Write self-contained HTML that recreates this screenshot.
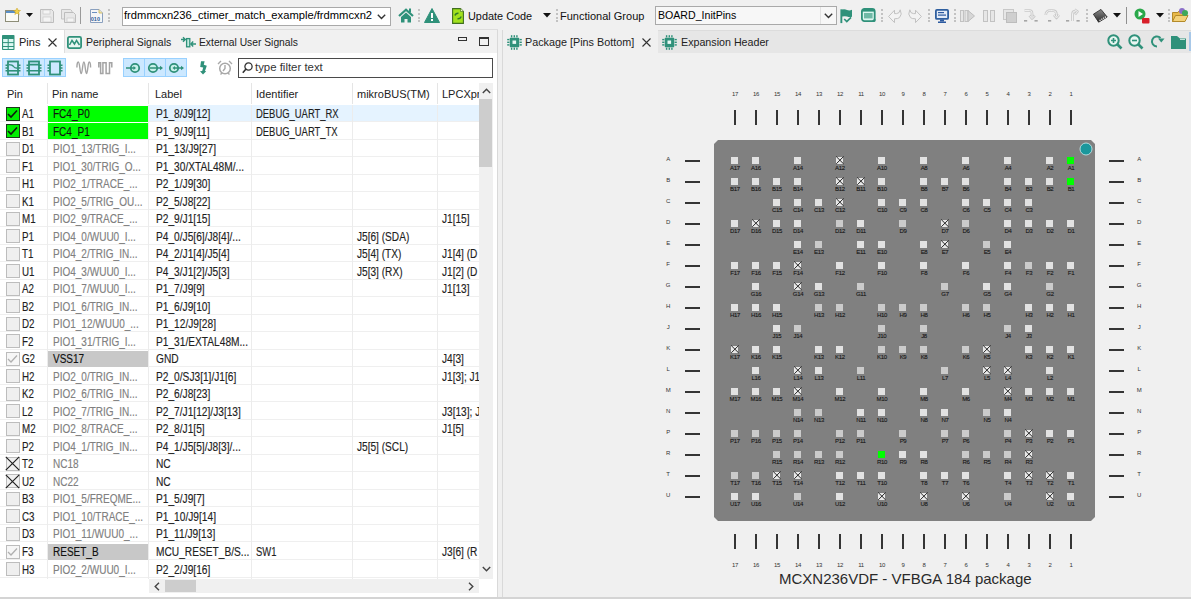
<!DOCTYPE html><html><head><meta charset="utf-8"><style>

*{box-sizing:border-box;margin:0;padding:0}
html,body{width:1191px;height:599px;overflow:hidden;background:#f0f0f0;font-family:"Liberation Sans",sans-serif;color:#1e1e1e}
.a{position:absolute}
.t{position:absolute;white-space:nowrap;font-size:11px;line-height:13px}
svg{position:absolute;overflow:visible}
.sepd{position:absolute;width:2px;height:14px;top:9px;background:repeating-linear-gradient(#c2c2c2 0 2px,transparent 2px 3.8px)}
.row{position:absolute;left:0;width:479px;height:17.5px;border-bottom:1px solid #ededed}
.c{position:absolute;top:1.5px;-webkit-text-stroke:0.15px currentColor;height:17px;white-space:nowrap;font-size:12px;line-height:17px;transform:scaleX(0.815);transform-origin:0 0}
.nm{}
.vl{position:absolute;width:1px;background:#ececec}
.pin{position:absolute;width:7.2px;height:7.2px}
.pl{position:absolute;font-size:6px;line-height:6px;color:#151515;-webkit-text-stroke:0.1px #151515;text-align:center;width:20px;letter-spacing:-0.3px}
.num{position:absolute;font-size:6px;line-height:6px;color:#333;text-align:center;width:20px;letter-spacing:-0.3px}

</style></head><body>
<div class="a" style="left:0;top:0;width:1191px;height:30px;background:#f0f0f0"></div>
<svg style="left:5px;top:8px" width="16" height="15" viewBox="0 0 16 15"><rect x="0.5" y="2.5" width="13" height="11" fill="#fbfbf5" stroke="#8d8d78"/><rect x="1" y="3" width="12" height="2" fill="#5a8fc8"/><path d="M12 0 L13 2.2 L15.5 2.5 L13.6 4 L14.2 6.5 L12 5.2 L9.8 6.5 L10.4 4 L8.5 2.5 L11 2.2Z" fill="#f3d24a" stroke="#c9a21e" stroke-width="0.5"/></svg>
<svg style="left:26px;top:13px" width="7" height="5"><path d="M0 0 H7 L3.5 4Z" fill="#111"/></svg>
<svg style="left:40px;top:9px" width="14" height="14" viewBox="0 0 14 14"><path d="M0.5 0.5H11.5L13.5 2.5V13.5H0.5Z" fill="#e8e8e8" stroke="#bdbdbd"/><rect x="3" y="1" width="7" height="4" fill="#f4f4f4" stroke="#c4c4c4" stroke-width="0.6"/><rect x="3" y="8" width="8" height="5" fill="#f4f4f4" stroke="#c4c4c4" stroke-width="0.6"/></svg>
<svg style="left:61px;top:9px" width="15" height="14" viewBox="0 0 15 14"><path d="M0.5 0.5H9.5L11 2V10H0.5Z" fill="#e8e8e8" stroke="#c4c4c4"/><path d="M3.5 3.5H12.5L14.5 5.5V13.5H3.5Z" fill="#e8e8e8" stroke="#bdbdbd"/><rect x="6" y="9" width="7" height="4" fill="#f4f4f4" stroke="#c4c4c4" stroke-width="0.6"/></svg>
<div class="a" style="left:80px;top:7px;width:1px;height:17px;background:#9a9a9a"></div>
<svg style="left:90px;top:9px" width="13" height="14" viewBox="0 0 13 14"><path d="M0.5 0.5H9L12.5 4V13.5H0.5Z" fill="#f6f6f6" stroke="#8aa0bf"/><path d="M9 0.5V4H12.5" fill="#f0e6b0" stroke="#c7b15a" stroke-width="0.8"/><rect x="2" y="3" width="5" height="1" fill="#6c8fc0"/><text x="0.8" y="12" font-size="5.5" font-family="Liberation Sans" font-weight="bold" fill="#2d5a9a">010</text></svg>
<div class="sepd" style="left:108px"></div>
<div class="a" style="left:122px;top:7px;width:269px;height:19px;background:#fff;border:1px solid #a9a9a9"></div>
<div class="t" style="left:124px;top:9px;font-size:11.2px;color:#000">frdmmcxn236_ctimer_match_example/frdmmcxn2</div>
<div class="a" style="left:373px;top:8px;width:17px;height:17px;background:#fff"></div>
<svg style="left:377px;top:14px" width="9" height="6"><path d="M0.8 0.8 L4.5 4.5 L8.2 0.8" fill="none" stroke="#333" stroke-width="1.4"/></svg>
<svg style="left:398px;top:8px" width="16" height="15" viewBox="0 0 16 15"><path d="M1 8 L8 1.8 L15 8" fill="none" stroke="#2f917a" stroke-width="2.2" stroke-linejoin="miter"/><rect x="11" y="0.5" width="2" height="4" fill="#2f917a"/><path d="M3 9 L8 4.6 L13 9 V14.5 H9.5 V11 H6.5 V14.5 H3Z" fill="#2f917a"/></svg>
<div class="sepd" style="left:418px"></div>
<svg style="left:424px;top:8px" width="16" height="15" viewBox="0 0 16 15"><path d="M8 0.5 L15.5 14.5 H0.5Z" fill="#2f917a" stroke="#2f917a" stroke-linejoin="round"/><rect x="7" y="5" width="2" height="5" fill="#fff"/><rect x="7" y="11" width="2" height="2" fill="#fff"/></svg>
<svg style="left:452px;top:8px" width="12" height="16" viewBox="0 0 12 16"><path d="M0.6 0.6H8.5L11.4 3.5V15.4H0.6Z" fill="#a2e21e" stroke="#3f6f1f" stroke-width="1.1"/><path d="M8.5 0.6V3.5H11.4" fill="#e8f8c0" stroke="#3f6f1f" stroke-width="0.6"/><path d="M3 7.5 Q3.5 5 6.5 5.2 M9 8.5 Q8.6 11 5.5 10.8" fill="none" stroke="#2f7a2a" stroke-width="1.5"/></svg>
<div class="t" style="left:468px;top:10px;font-size:10.9px;color:#111">Update Code</div>
<svg style="left:543px;top:13px" width="8" height="5"><path d="M0 0 H8 L4 4.5Z" fill="#111"/></svg>
<div class="sepd" style="left:556px"></div>
<div class="t" style="left:560px;top:10px;font-size:11px;color:#111">Functional Group</div>
<div class="a" style="left:655px;top:6px;width:182px;height:19px;background:#f7f7f7;border:1px solid #a9a9a9"></div>
<div class="a" style="left:820px;top:7px;width:1px;height:17px;background:#e2e2e2"></div>
<div class="t" style="left:658px;top:9px;font-size:10.6px;color:#000">BOARD_InitPins</div>
<svg style="left:824px;top:13px" width="9" height="6"><path d="M0.8 0.8 L4.5 4.5 L8.2 0.8" fill="none" stroke="#333" stroke-width="1.4"/></svg>
<svg style="left:840px;top:9px" width="13" height="15" viewBox="0 0 13 15"><rect x="0.4" y="0.3" width="1.9" height="13.8" fill="#2f917a"/><path d="M2 0.5 Q5 -0.3 7 1 Q9.5 2 12 0.8 V7.8 Q9.5 8.5 7 7.5 Q5 6.8 2 7.6Z" fill="#2f917a"/><path d="M4.2 10 L6.8 12.6 L11 8.4" fill="none" stroke="#2f917a" stroke-width="1.7"/></svg>
<svg style="left:861px;top:8px" width="15" height="15" viewBox="0 0 15 15"><rect x="0.9" y="0.9" width="12.8" height="12.2" rx="2.5" fill="#dcf6f0" stroke="#2f917a" stroke-width="1.8"/><rect x="1" y="1" width="12.6" height="2.6" fill="#2f917a"/><rect x="3" y="5" width="8.6" height="5.4" fill="#6fb9a6"/><path d="M10.5 14 L14.6 10.8 V12.5 Q14.6 14 13 14Z" fill="#2f917a"/></svg>
<div class="sepd" style="left:881px"></div>
<svg style="left:888px;top:9px" width="15" height="14" viewBox="0 0 15 14"><path d="M0.6 7.5 L6.5 1.2 V4.6 H8.6 Q11.6 4.6 12.2 0.8 Q14.6 5.5 11.5 8.6 Q10.2 9.8 6.5 9.8 V13.6Z" fill="#f3f3f3" stroke="#c2c2c2" stroke-width="1" stroke-linejoin="round"/></svg>
<svg style="left:907px;top:9px" width="15" height="14" viewBox="0 0 15 14"><path d="M14.4 7.5 L8.5 1.2 V4.6 H6.4 Q3.4 4.6 2.8 0.8 Q0.4 5.5 3.5 8.6 Q4.8 9.8 8.5 9.8 V13.6Z" fill="#f3f3f3" stroke="#c2c2c2" stroke-width="1" stroke-linejoin="round"/></svg>
<div class="sepd" style="left:928px"></div>
<svg style="left:935px;top:9px" width="14" height="14" viewBox="0 0 14 14"><rect x="0.9" y="0.9" width="12.2" height="9" rx="1" fill="#e4ecf7" stroke="#2f5f9f" stroke-width="1.8"/><rect x="3" y="3" width="6" height="1.2" fill="#2c5aa0"/><rect x="3" y="5.5" width="8" height="1.2" fill="#2c5aa0"/><rect x="5" y="10.5" width="4" height="2" fill="#2c5aa0"/><rect x="3" y="12.5" width="8" height="1.5" fill="#2c5aa0"/></svg>
<div class="sepd" style="left:954px"></div>
<svg style="left:960px;top:9px" width="15" height="14" viewBox="0 0 15 14"><rect x="0.5" y="1.5" width="3" height="11" fill="#e6e6e6" stroke="#c2c2c2"/><rect x="5" y="1.5" width="3" height="11" fill="#e6e6e6" stroke="#c2c2c2"/><path d="M8 1.5 L14.5 7 L8 12.5Z" fill="#d6d6d6" stroke="#bdbdbd"/></svg>
<svg style="left:982px;top:9px" width="14" height="14" viewBox="0 0 14 14"><rect x="1.5" y="1.5" width="4" height="11" fill="#e6e6e6" stroke="#c2c2c2"/><rect x="8.5" y="1.5" width="4" height="11" fill="#e6e6e6" stroke="#c2c2c2"/></svg>
<svg style="left:1003px;top:9px" width="14" height="14" viewBox="0 0 14 14"><rect x="0.5" y="0.5" width="10" height="10" fill="#e6e6e6" stroke="#c8c8c8"/><rect x="3.5" y="3.5" width="10" height="10" fill="#cfcfcf" stroke="#bdbdbd"/></svg>
<svg style="left:1023px;top:9px" width="16" height="13" viewBox="0 0 16 13"><path d="M1.5 1.5 H6.5 Q9 1.5 9 4 V8 M6.5 6.5 L9 9.5 L11.8 6.5" fill="none" stroke="#c9c9c9" stroke-width="2.6" stroke-linejoin="round"/><path d="M1.5 1.5 H6.5 Q9 1.5 9 4 V8 M6.5 6.5 L9 9.5 L11.8 6.5" fill="none" stroke="#f4f4f4" stroke-width="0.9" stroke-linejoin="round"/><rect x="1" y="11" width="3.2" height="1.6" fill="#a6a6a6"/><rect x="11.5" y="11" width="3.2" height="1.6" fill="#a6a6a6"/></svg>
<svg style="left:1044px;top:9px" width="16" height="13" viewBox="0 0 16 13"><path d="M1.8 6 Q1.8 1.5 6.5 1.5 H8.5 Q12.5 1.5 12.5 5.5 V7.5 M10 6 L12.5 9 L15 6" fill="none" stroke="#c9c9c9" stroke-width="2.6" stroke-linejoin="round"/><path d="M1.8 6 Q1.8 1.5 6.5 1.5 H8.5 Q12.5 1.5 12.5 5.5 V7.5 M10 6 L12.5 9 L15 6" fill="none" stroke="#f4f4f4" stroke-width="0.9" stroke-linejoin="round"/><rect x="4" y="11" width="3.2" height="1.6" fill="#a6a6a6"/></svg>
<svg style="left:1065px;top:9px" width="16" height="13" viewBox="0 0 16 13"><path d="M7.5 12 V5 Q7.5 2 10.5 2 H11 M9.5 0.5 L12.5 2.5 L10 5.5" fill="none" stroke="#c9c9c9" stroke-width="2.6" stroke-linejoin="round"/><path d="M7.5 12 V5 Q7.5 2 10.5 2 H11 M9.5 0.5 L12.5 2.5 L10 5.5" fill="none" stroke="#f4f4f4" stroke-width="0.9" stroke-linejoin="round"/><rect x="1" y="11" width="3.2" height="1.6" fill="#a6a6a6"/><rect x="11.5" y="11" width="3.2" height="1.6" fill="#a6a6a6"/></svg>
<div class="sepd" style="left:1086px"></div>
<svg style="left:1093px;top:9px" width="15" height="14" viewBox="0 0 15 14"><defs><linearGradient id="cg" x1="0" y1="0" x2="0" y2="1"><stop offset="0" stop-color="#8a8a8a"/><stop offset="1" stop-color="#2a2a2a"/></linearGradient></defs><path d="M0.4 5.2 L8 0.4 L14.2 8 L5.6 13.2Z" fill="url(#cg)" stroke="#222" stroke-width="0.8"/><path d="M6.5 11.6 L13 7.8" stroke="#f4f4f4" stroke-width="1.3" stroke-dasharray="1.2 0.9"/></svg>
<svg style="left:1113px;top:13px" width="8" height="5"><path d="M0 0 H8 L4 4.5Z" fill="#111"/></svg>
<div class="a" style="left:1126px;top:7px;width:1px;height:17px;background:#8f8f8f"></div>
<svg style="left:1134px;top:8px" width="16" height="16" viewBox="0 0 16 16"><circle cx="6" cy="6" r="5.5" fill="#2aa84a"/><path d="M4.5 3 L9 6 L4.5 9Z" fill="#fff"/><rect x="8" y="10" width="7.5" height="5.5" rx="1" fill="#d8202a"/></svg>
<svg style="left:1156px;top:13px" width="8" height="5"><path d="M0 0 H8 L4 4.5Z" fill="#111"/></svg>
<div class="sepd" style="left:1168px"></div>
<svg style="left:1172px;top:7px" width="17" height="16" viewBox="0 0 17 16"><path d="M0.5 5.5 H6 L7 4 H11 V14.5 H0.5Z" fill="#e9b94a" stroke="#b38a2a"/><path d="M0.5 14.5 L3.5 8.5 H16 L13 14.5Z" fill="#f4d27a" stroke="#b38a2a"/><circle cx="10" cy="4" r="3" fill="#8b6fc9"/><circle cx="13" cy="6" r="3" fill="#3ea85a"/></svg>
<div class="a" style="left:0;top:29px;width:498px;height:24px;background:#f1f1f1;border-top:1px solid #dddddd"></div>
<div class="a" style="left:0;top:30px;width:64px;height:23px;background:#fff"></div>
<div class="a" style="left:64px;top:30px;width:1px;height:23px;background:#dedede"></div>
<svg style="left:2px;top:35px" width="13" height="15" viewBox="0 0 13 15"><rect x="0" y="0" width="12.5" height="15" rx="0.8" fill="#2f917a"/><g fill="#dcf8f2"><rect x="1.1" y="4" width="4.6" height="3.1"/><rect x="6.7" y="4" width="4.7" height="3.1"/><rect x="1.1" y="8.1" width="4.6" height="2.9"/><rect x="6.7" y="8.1" width="4.7" height="2.9"/><rect x="1.1" y="12" width="4.6" height="2"/><rect x="6.7" y="12" width="4.7" height="2"/></g></svg>
<div class="t" style="left:19px;top:36px;font-size:11px;color:#222">Pins</div>
<svg style="left:48px;top:38px" width="9" height="9"><path d="M0.5 0.5 L8.5 8.5 M8.5 0.5 L0.5 8.5" stroke="#333" stroke-width="1.1"/></svg>
<svg style="left:67px;top:36px" width="15" height="13" viewBox="0 0 15 13"><rect x="0.9" y="0.9" width="13.2" height="11.2" rx="1.5" fill="#e9f6f2" stroke="#2f917a" stroke-width="1.8"/><path d="M2.5 9 L5 4.5 L7.5 8 L9.5 4.5 L12.5 9" fill="none" stroke="#2f917a" stroke-width="1.5"/></svg>
<div class="t" style="left:86px;top:36px;font-size:10.5px;color:#222">Peripheral Signals</div>
<svg style="left:180px;top:36px" width="17" height="13" viewBox="0 0 17 13"><path d="M1 3.5 H5.2 M3 1.2 L5.3 3.5 L3 5.8" fill="none" stroke="#2f917a" stroke-width="1.4"/><rect x="6.6" y="2.6" width="3.2" height="8.2" fill="#c4ece2" stroke="#2f917a" stroke-width="1.3"/><path d="M16 8 H11 M13.2 5.6 L10.9 8 L13.2 10.4" fill="none" stroke="#2f917a" stroke-width="1.4"/></svg>
<div class="t" style="left:199px;top:36px;font-size:10.3px;color:#222">External User Signals</div>
<div class="a" style="left:458px;top:37px;width:9px;height:4px;border:1px solid #333"></div>
<div class="a" style="left:479px;top:37px;width:10px;height:9px;border:1px solid #333;border-top:2px solid #333"></div>
<div class="a" style="left:0;top:53px;width:498px;height:545px;background:#fff"></div>
<div class="a" style="left:497px;top:30px;width:1px;height:568px;background:#d9d9d9"></div>
<div class="a" style="left:502px;top:30px;width:1px;height:568px;background:#d9d9d9"></div>
<div class="a" style="left:0;top:597px;width:1191px;height:2px;background:#d4d4d4"></div>
<div class="a" style="left:2px;top:58px;width:64px;height:19px;background:#cce8ff;border:1px solid #99d1ff"></div>
<div class="a" style="left:23px;top:58px;width:1px;height:19px;background:#99d1ff"></div>
<div class="a" style="left:44px;top:58px;width:1px;height:19px;background:#99d1ff"></div>
<div class="a" style="left:123px;top:58px;width:64px;height:19px;background:#cce8ff;border:1px solid #99d1ff"></div>
<div class="a" style="left:144px;top:58px;width:1px;height:19px;background:#99d1ff"></div>
<div class="a" style="left:165px;top:58px;width:1px;height:19px;background:#99d1ff"></div>
<svg style="left:5px;top:60px" width="16" height="16" viewBox="0 0 16 16"><rect x="3" y="1.5" width="10" height="13" fill="none" stroke="#2f917a" stroke-width="1.8"/><path d="M0.5 5.2 H3 M13 5.2 H15.5" stroke="#2f917a" stroke-width="1.4"/><path d="M0.5 8 H3 M13 8 H15.5" stroke="#2f917a" stroke-width="1.4"/><path d="M0.5 10.8 H3 M13 10.8 H15.5" stroke="#2f917a" stroke-width="1.4"/><path d="M3 10.8 H13" stroke="#2f917a" stroke-width="1.6"/><path d="M3.8 4.6 Q7.5 4.6 8.5 6.5 Q9.5 8.2 12.5 8.2" fill="none" stroke="#2f917a" stroke-width="1.4"/></svg>
<svg style="left:26px;top:60px" width="16" height="16" viewBox="0 0 16 16"><rect x="3" y="1.5" width="10" height="13" fill="none" stroke="#2f917a" stroke-width="1.8"/><path d="M0.5 5.2 H3 M13 5.2 H15.5" stroke="#2f917a" stroke-width="1.4"/><path d="M0.5 8 H3 M13 8 H15.5" stroke="#2f917a" stroke-width="1.4"/><path d="M0.5 10.8 H3 M13 10.8 H15.5" stroke="#2f917a" stroke-width="1.4"/><path d="M3 4.6 H13 M3 10.8 H13" stroke="#2f917a" stroke-width="1.6"/></svg>
<svg style="left:47px;top:60px" width="16" height="16" viewBox="0 0 16 16"><rect x="3" y="1.5" width="10" height="13" fill="none" stroke="#2f917a" stroke-width="1.8"/><path d="M0.5 5.2 H3 M13 5.2 H15.5" stroke="#2f917a" stroke-width="1.4"/><path d="M0.5 8 H3 M13 8 H15.5" stroke="#2f917a" stroke-width="1.4"/><path d="M0.5 10.8 H3 M13 10.8 H15.5" stroke="#2f917a" stroke-width="1.4"/></svg>
<svg style="left:76px;top:61px" width="16" height="14" viewBox="0 0 16 14"><path d="M0.9 6.6 C0.9 2.5 1.6 1 2.3 1 C3.8 1 4 12.6 5.1 12.6 C6.4 12.6 6.6 1 7.9 1 C9.2 1 9.3 12.6 10.5 12.6 C11.7 12.6 12 1 13.1 1 C14 1 14.6 3 14.6 6.6" fill="none" stroke="#a4a4a4" stroke-width="1.4"/></svg>
<svg style="left:98px;top:62px" width="15" height="13" viewBox="0 0 15 13"><path d="M0.8 5.6 V0.8 H2.6 V11.6 H4.9 V0.8 H8.1 V11.6 H11.5 V0.8 H13.8 V5.6" fill="none" stroke="#a4a4a4" stroke-width="1.5"/></svg>
<svg style="left:125px;top:61px" width="18" height="14" viewBox="0 0 18 14"><circle cx="10" cy="7" r="4.2" fill="#c9f1ea" stroke="#2f917a" stroke-width="1.8"/><path d="M1 7 H10" stroke="#2f917a" stroke-width="1.5"/><path d="M8.5 5 L11 7 L8.5 9Z" fill="#2f917a"/></svg>
<svg style="left:146px;top:61px" width="18" height="14" viewBox="0 0 18 14"><circle cx="7" cy="7" r="4.2" fill="#c9f1ea" stroke="#2f917a" stroke-width="1.8"/><path d="M4 7 H15" stroke="#2f917a" stroke-width="1.5"/><path d="M14 4.8 L17 7 L14 9.2Z" fill="#2f917a"/></svg>
<svg style="left:167px;top:61px" width="18" height="14" viewBox="0 0 18 14"><circle cx="7" cy="7" r="4.2" fill="#c9f1ea" stroke="#2f917a" stroke-width="1.8"/><path d="M7 7 H15" stroke="#2f917a" stroke-width="1.5"/><path d="M14 4.8 L17 7 L14 9.2Z" fill="#2f917a"/><path d="M8 5 L5.5 7 L8 9Z" fill="#2f917a"/></svg>
<svg style="left:199px;top:61px" width="9" height="14" viewBox="0 0 9 14"><path d="M2 0.2 H5.6 L4.8 3.7 L7.8 4.7 L6 10 L7.2 10.3 L4 13.4 L1 10.3 L3.2 10 L4.2 6.4 L1.2 6Z" fill="#2f917a"/></svg>
<svg style="left:217px;top:60px" width="16" height="16" viewBox="0 0 16 16"><circle cx="8" cy="8.5" r="5.3" fill="none" stroke="#a8a8a8" stroke-width="1.5"/><path d="M8 5 V8.5 L6 11 M1 4 L4 1 M12 1 L15 4 M3.5 14.5 L5 13 M12.5 14.5 L11 13" stroke="#a8a8a8" stroke-width="1.4" fill="none"/></svg>
<div class="a" style="left:238px;top:58px;width:255px;height:20px;background:#fff;border:1px solid #4a4a4a"></div>
<svg style="left:242px;top:62px" width="11" height="12" viewBox="0 0 11 12"><circle cx="6.5" cy="4.5" r="3.6" fill="none" stroke="#333" stroke-width="1.3"/><path d="M4 7 L0.8 10.8" stroke="#333" stroke-width="1.6"/></svg>
<div class="t" style="left:255px;top:61px;font-size:11.4px;color:#333">type filter text</div>
<div class="a" style="left:0;top:83px;width:479px;height:21px;background:#fff"></div>
<div class="vl" style="left:47px;top:83px;height:21px;background:#e5e5e5"></div>
<div class="vl" style="left:148px;top:83px;height:21px;background:#e5e5e5"></div>
<div class="vl" style="left:251px;top:83px;height:21px;background:#e5e5e5"></div>
<div class="vl" style="left:352px;top:83px;height:21px;background:#e5e5e5"></div>
<div class="vl" style="left:437px;top:83px;height:21px;background:#e5e5e5"></div>
<div class="t" style="left:7px;top:88px;font-size:11px;color:#222">Pin</div>
<div class="t" style="left:52px;top:88px;font-size:11px;color:#222">Pin name</div>
<div class="t" style="left:155px;top:88px;font-size:11px;color:#222">Label</div>
<div class="t" style="left:256px;top:88px;font-size:11px;color:#222">Identifier</div>
<div class="t" style="left:357px;top:88px;font-size:11px;color:#222">mikroBUS(TM)</div>
<div class="t" style="left:442px;top:88px;font-size:11px;color:#222">LPCXpr</div>
<div class="a" style="left:479px;top:83px;width:14px;height:496px;background:#f0f0f0"></div>
<div class="a" style="left:0;top:104.5px;width:479px;height:474px;overflow:hidden">
<div class="a" style="left:0;top:0.00px;width:479px;height:17.52px;border-bottom:1px solid #efefef">
<div class="a" style="left:148px;top:0;width:331px;height:100%;background:#e5f3ff"></div>
<div class="a" style="left:5.5px;top:2px;width:14px;height:14px;background:#00ee00;border:1px solid #1a3a1a"></div>
<svg style="left:7px;top:4px" width="11" height="10"><path d="M1 5 L4 8 L10 1.5" fill="none" stroke="#0d1a0d" stroke-width="1.6"/></svg>
<div class="c" style="left:22px;width:25px;color:#1e1e1e">A1</div>
<div class="a" style="left:48px;top:1px;width:100px;height:16px;background:#00ff00"></div>
<div class="c nm" style="left:53px;width:95px;color:#111;transform:scaleX(0.834)">FC4_P0</div>
<div class="c" style="left:156px;width:96px;color:#1e1e1e;transform:scaleX(0.848)">P1_8/J9[12]</div>
<div class="c" style="left:256px;width:96px;color:#1e1e1e;transform:scaleX(0.786)">DEBUG_UART_RX</div>
<div class="c" style="left:357px;width:80px;color:#1e1e1e;transform:scaleX(0.843)"></div>
<div class="c" style="left:442px;width:37px;color:#1e1e1e;transform:scaleX(0.843)"></div>
</div>
<div class="a" style="left:0;top:17.52px;width:479px;height:17.52px;border-bottom:1px solid #efefef">
<div class="a" style="left:5.5px;top:2px;width:14px;height:14px;background:#00ee00;border:1px solid #1a3a1a"></div>
<svg style="left:7px;top:4px" width="11" height="10"><path d="M1 5 L4 8 L10 1.5" fill="none" stroke="#0d1a0d" stroke-width="1.6"/></svg>
<div class="c" style="left:22px;width:25px;color:#1e1e1e">B1</div>
<div class="a" style="left:48px;top:1px;width:100px;height:16px;background:#00ff00"></div>
<div class="c nm" style="left:53px;width:95px;color:#111;transform:scaleX(0.834)">FC4_P1</div>
<div class="c" style="left:156px;width:96px;color:#1e1e1e;transform:scaleX(0.848)">P1_9/J9[11]</div>
<div class="c" style="left:256px;width:96px;color:#1e1e1e;transform:scaleX(0.786)">DEBUG_UART_TX</div>
<div class="c" style="left:357px;width:80px;color:#1e1e1e;transform:scaleX(0.843)"></div>
<div class="c" style="left:442px;width:37px;color:#1e1e1e;transform:scaleX(0.843)"></div>
</div>
<div class="a" style="left:0;top:35.04px;width:479px;height:17.52px;border-bottom:1px solid #efefef">
<div class="a" style="left:5.5px;top:2px;width:14px;height:14px;background:#efefef;border:1px solid #bdbdbd"></div>
<div class="c" style="left:22px;width:25px;color:#1e1e1e">D1</div>
<div class="c nm" style="left:53px;width:95px;color:#808080;transform:scaleX(0.834)">PIO1_13/TRIG_I...</div>
<div class="c" style="left:156px;width:96px;color:#1e1e1e;transform:scaleX(0.848)">P1_13/J9[27]</div>
<div class="c" style="left:256px;width:96px;color:#1e1e1e;transform:scaleX(0.786)"></div>
<div class="c" style="left:357px;width:80px;color:#1e1e1e;transform:scaleX(0.843)"></div>
<div class="c" style="left:442px;width:37px;color:#1e1e1e;transform:scaleX(0.843)"></div>
</div>
<div class="a" style="left:0;top:52.56px;width:479px;height:17.52px;border-bottom:1px solid #efefef">
<div class="a" style="left:5.5px;top:2px;width:14px;height:14px;background:#efefef;border:1px solid #bdbdbd"></div>
<div class="c" style="left:22px;width:25px;color:#1e1e1e">F1</div>
<div class="c nm" style="left:53px;width:95px;color:#808080;transform:scaleX(0.834)">PIO1_30/TRIG_O...</div>
<div class="c" style="left:156px;width:96px;color:#1e1e1e;transform:scaleX(0.848)">P1_30/XTAL48M/...</div>
<div class="c" style="left:256px;width:96px;color:#1e1e1e;transform:scaleX(0.786)"></div>
<div class="c" style="left:357px;width:80px;color:#1e1e1e;transform:scaleX(0.843)"></div>
<div class="c" style="left:442px;width:37px;color:#1e1e1e;transform:scaleX(0.843)"></div>
</div>
<div class="a" style="left:0;top:70.08px;width:479px;height:17.52px;border-bottom:1px solid #efefef">
<div class="a" style="left:5.5px;top:2px;width:14px;height:14px;background:#efefef;border:1px solid #bdbdbd"></div>
<div class="c" style="left:22px;width:25px;color:#1e1e1e">H1</div>
<div class="c nm" style="left:53px;width:95px;color:#808080;transform:scaleX(0.834)">PIO2_1/TRACE_...</div>
<div class="c" style="left:156px;width:96px;color:#1e1e1e;transform:scaleX(0.848)">P2_1/J9[30]</div>
<div class="c" style="left:256px;width:96px;color:#1e1e1e;transform:scaleX(0.786)"></div>
<div class="c" style="left:357px;width:80px;color:#1e1e1e;transform:scaleX(0.843)"></div>
<div class="c" style="left:442px;width:37px;color:#1e1e1e;transform:scaleX(0.843)"></div>
</div>
<div class="a" style="left:0;top:87.60px;width:479px;height:17.52px;border-bottom:1px solid #efefef">
<div class="a" style="left:5.5px;top:2px;width:14px;height:14px;background:#efefef;border:1px solid #bdbdbd"></div>
<div class="c" style="left:22px;width:25px;color:#1e1e1e">K1</div>
<div class="c nm" style="left:53px;width:95px;color:#808080;transform:scaleX(0.834)">PIO2_5/TRIG_OU...</div>
<div class="c" style="left:156px;width:96px;color:#1e1e1e;transform:scaleX(0.848)">P2_5/J8[22]</div>
<div class="c" style="left:256px;width:96px;color:#1e1e1e;transform:scaleX(0.786)"></div>
<div class="c" style="left:357px;width:80px;color:#1e1e1e;transform:scaleX(0.843)"></div>
<div class="c" style="left:442px;width:37px;color:#1e1e1e;transform:scaleX(0.843)"></div>
</div>
<div class="a" style="left:0;top:105.12px;width:479px;height:17.52px;border-bottom:1px solid #efefef">
<div class="a" style="left:5.5px;top:2px;width:14px;height:14px;background:#efefef;border:1px solid #bdbdbd"></div>
<div class="c" style="left:22px;width:25px;color:#1e1e1e">M1</div>
<div class="c nm" style="left:53px;width:95px;color:#808080;transform:scaleX(0.834)">PIO2_9/TRACE_...</div>
<div class="c" style="left:156px;width:96px;color:#1e1e1e;transform:scaleX(0.848)">P2_9/J1[15]</div>
<div class="c" style="left:256px;width:96px;color:#1e1e1e;transform:scaleX(0.786)"></div>
<div class="c" style="left:357px;width:80px;color:#1e1e1e;transform:scaleX(0.843)"></div>
<div class="c" style="left:442px;width:37px;color:#1e1e1e;transform:scaleX(0.843)">J1[15]</div>
</div>
<div class="a" style="left:0;top:122.64px;width:479px;height:17.52px;border-bottom:1px solid #efefef">
<div class="a" style="left:5.5px;top:2px;width:14px;height:14px;background:#efefef;border:1px solid #bdbdbd"></div>
<div class="c" style="left:22px;width:25px;color:#1e1e1e">P1</div>
<div class="c nm" style="left:53px;width:95px;color:#808080;transform:scaleX(0.834)">PIO4_0/WUU0_I...</div>
<div class="c" style="left:156px;width:96px;color:#1e1e1e;transform:scaleX(0.848)">P4_0/J5[6]/J8[4]/...</div>
<div class="c" style="left:256px;width:96px;color:#1e1e1e;transform:scaleX(0.786)"></div>
<div class="c" style="left:357px;width:80px;color:#1e1e1e;transform:scaleX(0.843)">J5[6] (SDA)</div>
<div class="c" style="left:442px;width:37px;color:#1e1e1e;transform:scaleX(0.843)"></div>
</div>
<div class="a" style="left:0;top:140.16px;width:479px;height:17.52px;border-bottom:1px solid #efefef">
<div class="a" style="left:5.5px;top:2px;width:14px;height:14px;background:#efefef;border:1px solid #bdbdbd"></div>
<div class="c" style="left:22px;width:25px;color:#1e1e1e">T1</div>
<div class="c nm" style="left:53px;width:95px;color:#808080;transform:scaleX(0.834)">PIO4_2/TRIG_IN...</div>
<div class="c" style="left:156px;width:96px;color:#1e1e1e;transform:scaleX(0.848)">P4_2/J1[4]/J5[4]</div>
<div class="c" style="left:256px;width:96px;color:#1e1e1e;transform:scaleX(0.786)"></div>
<div class="c" style="left:357px;width:80px;color:#1e1e1e;transform:scaleX(0.843)">J5[4] (TX)</div>
<div class="c" style="left:442px;width:37px;color:#1e1e1e;transform:scaleX(0.843)">J1[4] (D</div>
</div>
<div class="a" style="left:0;top:157.68px;width:479px;height:17.52px;border-bottom:1px solid #efefef">
<div class="a" style="left:5.5px;top:2px;width:14px;height:14px;background:#efefef;border:1px solid #bdbdbd"></div>
<div class="c" style="left:22px;width:25px;color:#1e1e1e">U1</div>
<div class="c nm" style="left:53px;width:95px;color:#808080;transform:scaleX(0.834)">PIO4_3/WUU0_I...</div>
<div class="c" style="left:156px;width:96px;color:#1e1e1e;transform:scaleX(0.848)">P4_3/J1[2]/J5[3]</div>
<div class="c" style="left:256px;width:96px;color:#1e1e1e;transform:scaleX(0.786)"></div>
<div class="c" style="left:357px;width:80px;color:#1e1e1e;transform:scaleX(0.843)">J5[3] (RX)</div>
<div class="c" style="left:442px;width:37px;color:#1e1e1e;transform:scaleX(0.843)">J1[2] (D</div>
</div>
<div class="a" style="left:0;top:175.20px;width:479px;height:17.52px;border-bottom:1px solid #efefef">
<div class="a" style="left:5.5px;top:2px;width:14px;height:14px;background:#efefef;border:1px solid #bdbdbd"></div>
<div class="c" style="left:22px;width:25px;color:#1e1e1e">A2</div>
<div class="c nm" style="left:53px;width:95px;color:#808080;transform:scaleX(0.834)">PIO1_7/WUU0_I...</div>
<div class="c" style="left:156px;width:96px;color:#1e1e1e;transform:scaleX(0.848)">P1_7/J9[9]</div>
<div class="c" style="left:256px;width:96px;color:#1e1e1e;transform:scaleX(0.786)"></div>
<div class="c" style="left:357px;width:80px;color:#1e1e1e;transform:scaleX(0.843)"></div>
<div class="c" style="left:442px;width:37px;color:#1e1e1e;transform:scaleX(0.843)">J1[13]</div>
</div>
<div class="a" style="left:0;top:192.72px;width:479px;height:17.52px;border-bottom:1px solid #efefef">
<div class="a" style="left:5.5px;top:2px;width:14px;height:14px;background:#efefef;border:1px solid #bdbdbd"></div>
<div class="c" style="left:22px;width:25px;color:#1e1e1e">B2</div>
<div class="c nm" style="left:53px;width:95px;color:#808080;transform:scaleX(0.834)">PIO1_6/TRIG_IN...</div>
<div class="c" style="left:156px;width:96px;color:#1e1e1e;transform:scaleX(0.848)">P1_6/J9[10]</div>
<div class="c" style="left:256px;width:96px;color:#1e1e1e;transform:scaleX(0.786)"></div>
<div class="c" style="left:357px;width:80px;color:#1e1e1e;transform:scaleX(0.843)"></div>
<div class="c" style="left:442px;width:37px;color:#1e1e1e;transform:scaleX(0.843)"></div>
</div>
<div class="a" style="left:0;top:210.24px;width:479px;height:17.52px;border-bottom:1px solid #efefef">
<div class="a" style="left:5.5px;top:2px;width:14px;height:14px;background:#efefef;border:1px solid #bdbdbd"></div>
<div class="c" style="left:22px;width:25px;color:#1e1e1e">D2</div>
<div class="c nm" style="left:53px;width:95px;color:#808080;transform:scaleX(0.834)">PIO1_12/WUU0_...</div>
<div class="c" style="left:156px;width:96px;color:#1e1e1e;transform:scaleX(0.848)">P1_12/J9[28]</div>
<div class="c" style="left:256px;width:96px;color:#1e1e1e;transform:scaleX(0.786)"></div>
<div class="c" style="left:357px;width:80px;color:#1e1e1e;transform:scaleX(0.843)"></div>
<div class="c" style="left:442px;width:37px;color:#1e1e1e;transform:scaleX(0.843)"></div>
</div>
<div class="a" style="left:0;top:227.76px;width:479px;height:17.52px;border-bottom:1px solid #efefef">
<div class="a" style="left:5.5px;top:2px;width:14px;height:14px;background:#efefef;border:1px solid #bdbdbd"></div>
<div class="c" style="left:22px;width:25px;color:#1e1e1e">F2</div>
<div class="c nm" style="left:53px;width:95px;color:#808080;transform:scaleX(0.834)">PIO1_31/TRIG_I...</div>
<div class="c" style="left:156px;width:96px;color:#1e1e1e;transform:scaleX(0.848)">P1_31/EXTAL48M...</div>
<div class="c" style="left:256px;width:96px;color:#1e1e1e;transform:scaleX(0.786)"></div>
<div class="c" style="left:357px;width:80px;color:#1e1e1e;transform:scaleX(0.843)"></div>
<div class="c" style="left:442px;width:37px;color:#1e1e1e;transform:scaleX(0.843)"></div>
</div>
<div class="a" style="left:0;top:245.28px;width:479px;height:17.52px;border-bottom:1px solid #efefef">
<div class="a" style="left:5.5px;top:2px;width:14px;height:14px;background:#f6f6f6;border:1px solid #bcbcbc"></div>
<svg style="left:7px;top:4px" width="11" height="10"><path d="M1 5 L4 8 L10 1.5" fill="none" stroke="#b0b0b0" stroke-width="1.3"/></svg>
<div class="c" style="left:22px;width:25px;color:#1e1e1e">G2</div>
<div class="a" style="left:48px;top:1px;width:100px;height:16px;background:#c8c8c8"></div>
<div class="c nm" style="left:53px;width:95px;color:#111;transform:scaleX(0.834)">VSS17</div>
<div class="c" style="left:156px;width:96px;color:#1e1e1e;transform:scaleX(0.848)">GND</div>
<div class="c" style="left:256px;width:96px;color:#1e1e1e;transform:scaleX(0.786)"></div>
<div class="c" style="left:357px;width:80px;color:#1e1e1e;transform:scaleX(0.843)"></div>
<div class="c" style="left:442px;width:37px;color:#1e1e1e;transform:scaleX(0.843)">J4[3]</div>
</div>
<div class="a" style="left:0;top:262.80px;width:479px;height:17.52px;border-bottom:1px solid #efefef">
<div class="a" style="left:5.5px;top:2px;width:14px;height:14px;background:#efefef;border:1px solid #bdbdbd"></div>
<div class="c" style="left:22px;width:25px;color:#1e1e1e">H2</div>
<div class="c nm" style="left:53px;width:95px;color:#808080;transform:scaleX(0.834)">PIO2_0/TRIG_IN...</div>
<div class="c" style="left:156px;width:96px;color:#1e1e1e;transform:scaleX(0.848)">P2_0/SJ3[1]/J1[6]</div>
<div class="c" style="left:256px;width:96px;color:#1e1e1e;transform:scaleX(0.786)"></div>
<div class="c" style="left:357px;width:80px;color:#1e1e1e;transform:scaleX(0.843)"></div>
<div class="c" style="left:442px;width:37px;color:#1e1e1e;transform:scaleX(0.843)">J1[3]; J1</div>
</div>
<div class="a" style="left:0;top:280.32px;width:479px;height:17.52px;border-bottom:1px solid #efefef">
<div class="a" style="left:5.5px;top:2px;width:14px;height:14px;background:#efefef;border:1px solid #bdbdbd"></div>
<div class="c" style="left:22px;width:25px;color:#1e1e1e">K2</div>
<div class="c nm" style="left:53px;width:95px;color:#808080;transform:scaleX(0.834)">PIO2_6/TRIG_IN...</div>
<div class="c" style="left:156px;width:96px;color:#1e1e1e;transform:scaleX(0.848)">P2_6/J8[23]</div>
<div class="c" style="left:256px;width:96px;color:#1e1e1e;transform:scaleX(0.786)"></div>
<div class="c" style="left:357px;width:80px;color:#1e1e1e;transform:scaleX(0.843)"></div>
<div class="c" style="left:442px;width:37px;color:#1e1e1e;transform:scaleX(0.843)"></div>
</div>
<div class="a" style="left:0;top:297.84px;width:479px;height:17.52px;border-bottom:1px solid #efefef">
<div class="a" style="left:5.5px;top:2px;width:14px;height:14px;background:#efefef;border:1px solid #bdbdbd"></div>
<div class="c" style="left:22px;width:25px;color:#1e1e1e">L2</div>
<div class="c nm" style="left:53px;width:95px;color:#808080;transform:scaleX(0.834)">PIO2_7/TRIG_IN...</div>
<div class="c" style="left:156px;width:96px;color:#1e1e1e;transform:scaleX(0.848)">P2_7/J1[12]/J3[13]</div>
<div class="c" style="left:256px;width:96px;color:#1e1e1e;transform:scaleX(0.786)"></div>
<div class="c" style="left:357px;width:80px;color:#1e1e1e;transform:scaleX(0.843)"></div>
<div class="c" style="left:442px;width:37px;color:#1e1e1e;transform:scaleX(0.843)">J3[13]; J</div>
</div>
<div class="a" style="left:0;top:315.36px;width:479px;height:17.52px;border-bottom:1px solid #efefef">
<div class="a" style="left:5.5px;top:2px;width:14px;height:14px;background:#efefef;border:1px solid #bdbdbd"></div>
<div class="c" style="left:22px;width:25px;color:#1e1e1e">M2</div>
<div class="c nm" style="left:53px;width:95px;color:#808080;transform:scaleX(0.834)">PIO2_8/TRACE_...</div>
<div class="c" style="left:156px;width:96px;color:#1e1e1e;transform:scaleX(0.848)">P2_8/J1[5]</div>
<div class="c" style="left:256px;width:96px;color:#1e1e1e;transform:scaleX(0.786)"></div>
<div class="c" style="left:357px;width:80px;color:#1e1e1e;transform:scaleX(0.843)"></div>
<div class="c" style="left:442px;width:37px;color:#1e1e1e;transform:scaleX(0.843)">J1[5]</div>
</div>
<div class="a" style="left:0;top:332.88px;width:479px;height:17.52px;border-bottom:1px solid #efefef">
<div class="a" style="left:5.5px;top:2px;width:14px;height:14px;background:#efefef;border:1px solid #bdbdbd"></div>
<div class="c" style="left:22px;width:25px;color:#1e1e1e">P2</div>
<div class="c nm" style="left:53px;width:95px;color:#808080;transform:scaleX(0.834)">PIO4_1/TRIG_IN...</div>
<div class="c" style="left:156px;width:96px;color:#1e1e1e;transform:scaleX(0.848)">P4_1/J5[5]/J8[3]/...</div>
<div class="c" style="left:256px;width:96px;color:#1e1e1e;transform:scaleX(0.786)"></div>
<div class="c" style="left:357px;width:80px;color:#1e1e1e;transform:scaleX(0.843)">J5[5] (SCL)</div>
<div class="c" style="left:442px;width:37px;color:#1e1e1e;transform:scaleX(0.843)"></div>
</div>
<div class="a" style="left:0;top:350.40px;width:479px;height:17.52px;border-bottom:1px solid #efefef">
<div class="a" style="left:5.5px;top:2px;width:14px;height:14px;background:#f0f0f0;border:1px solid #bcbcbc"></div>
<svg style="left:5px;top:1.5px" width="15" height="15"><path d="M0.8 0.8 L14.2 14.2 M14.2 0.8 L0.8 14.2" stroke="#222" stroke-width="1.2"/></svg>
<div class="c" style="left:22px;width:25px;color:#1e1e1e">T2</div>
<div class="c nm" style="left:53px;width:95px;color:#808080;transform:scaleX(0.834)">NC18</div>
<div class="c" style="left:156px;width:96px;color:#1e1e1e;transform:scaleX(0.848)">NC</div>
<div class="c" style="left:256px;width:96px;color:#1e1e1e;transform:scaleX(0.786)"></div>
<div class="c" style="left:357px;width:80px;color:#1e1e1e;transform:scaleX(0.843)"></div>
<div class="c" style="left:442px;width:37px;color:#1e1e1e;transform:scaleX(0.843)"></div>
</div>
<div class="a" style="left:0;top:367.92px;width:479px;height:17.52px;border-bottom:1px solid #efefef">
<div class="a" style="left:5.5px;top:2px;width:14px;height:14px;background:#f0f0f0;border:1px solid #bcbcbc"></div>
<svg style="left:5px;top:1.5px" width="15" height="15"><path d="M0.8 0.8 L14.2 14.2 M14.2 0.8 L0.8 14.2" stroke="#222" stroke-width="1.2"/></svg>
<div class="c" style="left:22px;width:25px;color:#1e1e1e">U2</div>
<div class="c nm" style="left:53px;width:95px;color:#808080;transform:scaleX(0.834)">NC22</div>
<div class="c" style="left:156px;width:96px;color:#1e1e1e;transform:scaleX(0.848)">NC</div>
<div class="c" style="left:256px;width:96px;color:#1e1e1e;transform:scaleX(0.786)"></div>
<div class="c" style="left:357px;width:80px;color:#1e1e1e;transform:scaleX(0.843)"></div>
<div class="c" style="left:442px;width:37px;color:#1e1e1e;transform:scaleX(0.843)"></div>
</div>
<div class="a" style="left:0;top:385.44px;width:479px;height:17.52px;border-bottom:1px solid #efefef">
<div class="a" style="left:5.5px;top:2px;width:14px;height:14px;background:#efefef;border:1px solid #bdbdbd"></div>
<div class="c" style="left:22px;width:25px;color:#1e1e1e">B3</div>
<div class="c nm" style="left:53px;width:95px;color:#808080;transform:scaleX(0.834)">PIO1_5/FREQME...</div>
<div class="c" style="left:156px;width:96px;color:#1e1e1e;transform:scaleX(0.848)">P1_5/J9[7]</div>
<div class="c" style="left:256px;width:96px;color:#1e1e1e;transform:scaleX(0.786)"></div>
<div class="c" style="left:357px;width:80px;color:#1e1e1e;transform:scaleX(0.843)"></div>
<div class="c" style="left:442px;width:37px;color:#1e1e1e;transform:scaleX(0.843)"></div>
</div>
<div class="a" style="left:0;top:402.96px;width:479px;height:17.52px;border-bottom:1px solid #efefef">
<div class="a" style="left:5.5px;top:2px;width:14px;height:14px;background:#efefef;border:1px solid #bdbdbd"></div>
<div class="c" style="left:22px;width:25px;color:#1e1e1e">C3</div>
<div class="c nm" style="left:53px;width:95px;color:#808080;transform:scaleX(0.834)">PIO1_10/TRACE_...</div>
<div class="c" style="left:156px;width:96px;color:#1e1e1e;transform:scaleX(0.848)">P1_10/J9[14]</div>
<div class="c" style="left:256px;width:96px;color:#1e1e1e;transform:scaleX(0.786)"></div>
<div class="c" style="left:357px;width:80px;color:#1e1e1e;transform:scaleX(0.843)"></div>
<div class="c" style="left:442px;width:37px;color:#1e1e1e;transform:scaleX(0.843)"></div>
</div>
<div class="a" style="left:0;top:420.48px;width:479px;height:17.52px;border-bottom:1px solid #efefef">
<div class="a" style="left:5.5px;top:2px;width:14px;height:14px;background:#efefef;border:1px solid #bdbdbd"></div>
<div class="c" style="left:22px;width:25px;color:#1e1e1e">D3</div>
<div class="c nm" style="left:53px;width:95px;color:#808080;transform:scaleX(0.834)">PIO1_11/WUU0_...</div>
<div class="c" style="left:156px;width:96px;color:#1e1e1e;transform:scaleX(0.848)">P1_11/J9[13]</div>
<div class="c" style="left:256px;width:96px;color:#1e1e1e;transform:scaleX(0.786)"></div>
<div class="c" style="left:357px;width:80px;color:#1e1e1e;transform:scaleX(0.843)"></div>
<div class="c" style="left:442px;width:37px;color:#1e1e1e;transform:scaleX(0.843)"></div>
</div>
<div class="a" style="left:0;top:438.00px;width:479px;height:17.52px;border-bottom:1px solid #efefef">
<div class="a" style="left:5.5px;top:2px;width:14px;height:14px;background:#f6f6f6;border:1px solid #bcbcbc"></div>
<svg style="left:7px;top:4px" width="11" height="10"><path d="M1 5 L4 8 L10 1.5" fill="none" stroke="#b0b0b0" stroke-width="1.3"/></svg>
<div class="c" style="left:22px;width:25px;color:#1e1e1e">F3</div>
<div class="a" style="left:48px;top:1px;width:100px;height:16px;background:#c8c8c8"></div>
<div class="c nm" style="left:53px;width:95px;color:#111;transform:scaleX(0.834)">RESET_B</div>
<div class="c" style="left:156px;width:96px;color:#1e1e1e;transform:scaleX(0.848)">MCU_RESET_B/S...</div>
<div class="c" style="left:256px;width:96px;color:#1e1e1e;transform:scaleX(0.786)">SW1</div>
<div class="c" style="left:357px;width:80px;color:#1e1e1e;transform:scaleX(0.843)"></div>
<div class="c" style="left:442px;width:37px;color:#1e1e1e;transform:scaleX(0.843)">J3[6] (R</div>
</div>
<div class="a" style="left:0;top:455.52px;width:479px;height:17.52px;border-bottom:1px solid #efefef">
<div class="a" style="left:5.5px;top:2px;width:14px;height:14px;background:#efefef;border:1px solid #bdbdbd"></div>
<div class="c" style="left:22px;width:25px;color:#1e1e1e">H3</div>
<div class="c nm" style="left:53px;width:95px;color:#808080;transform:scaleX(0.834)">PIO2_2/WUU0_I...</div>
<div class="c" style="left:156px;width:96px;color:#1e1e1e;transform:scaleX(0.848)">P2_2/J9[16]</div>
<div class="c" style="left:256px;width:96px;color:#1e1e1e;transform:scaleX(0.786)"></div>
<div class="c" style="left:357px;width:80px;color:#1e1e1e;transform:scaleX(0.843)"></div>
<div class="c" style="left:442px;width:37px;color:#1e1e1e;transform:scaleX(0.843)"></div>
</div>
<div class="vl" style="left:47px;top:0;height:474px"></div>
<div class="vl" style="left:148px;top:0;height:474px"></div>
<div class="vl" style="left:251px;top:0;height:474px"></div>
<div class="vl" style="left:352px;top:0;height:474px"></div>
<div class="vl" style="left:437px;top:0;height:474px"></div>
</div>
<svg style="left:482px;top:88px" width="9" height="6"><path d="M0.8 5 L4.5 1.2 L8.2 5" fill="none" stroke="#444" stroke-width="1.4"/></svg>
<div class="a" style="left:479px;top:99px;width:13px;height:68px;background:#cdcdcd"></div>
<svg style="left:482px;top:566px" width="9" height="6"><path d="M0.8 1 L4.5 4.8 L8.2 1" fill="none" stroke="#444" stroke-width="1.4"/></svg>
<div class="a" style="left:149px;top:579px;width:330px;height:14px;background:#f0f0f0"></div>
<div class="a" style="left:165px;top:580px;width:31px;height:12px;background:#cdcdcd"></div>
<svg style="left:154px;top:582px" width="6" height="9"><path d="M5 0.8 L1.2 4.5 L5 8.2" fill="none" stroke="#444" stroke-width="1.4"/></svg>
<svg style="left:468px;top:582px" width="6" height="9"><path d="M1 0.8 L4.8 4.5 L1 8.2" fill="none" stroke="#444" stroke-width="1.4"/></svg>
<div class="a" style="left:503px;top:30px;width:688px;height:23px;background:#e6e6e6;border-top:1px solid #dcdcdc"></div>
<div class="a" style="left:503px;top:30px;width:155px;height:23px;background:#f0f0f0"></div>
<svg style="left:507px;top:35px" width="15" height="15" viewBox="0 0 15 15"><rect x="2.8" y="2.8" width="9.4" height="9.4" rx="0.6" fill="#2f917a"/><rect x="5.5" y="5.5" width="3.6" height="3.4" fill="#e8f8f4"/><rect x="3.9" y="0.2" width="1.4" height="2.2" fill="#2f917a"/><rect x="3.9" y="12.6" width="1.4" height="2.2" fill="#2f917a"/><rect x="0.2" y="3.9" width="2.2" height="1.4" fill="#2f917a"/><rect x="12.6" y="3.9" width="2.2" height="1.4" fill="#2f917a"/><rect x="6.6" y="0.2" width="1.4" height="2.2" fill="#2f917a"/><rect x="6.6" y="12.6" width="1.4" height="2.2" fill="#2f917a"/><rect x="0.2" y="6.6" width="2.2" height="1.4" fill="#2f917a"/><rect x="12.6" y="6.6" width="2.2" height="1.4" fill="#2f917a"/><rect x="9.2" y="0.2" width="1.4" height="2.2" fill="#2f917a"/><rect x="9.2" y="12.6" width="1.4" height="2.2" fill="#2f917a"/><rect x="0.2" y="9.2" width="2.2" height="1.4" fill="#2f917a"/><rect x="12.6" y="9.2" width="2.2" height="1.4" fill="#2f917a"/></svg>
<div class="t" style="left:525px;top:36px;font-size:10.8px;color:#222">Package [Pins Bottom]</div>
<svg style="left:642px;top:38px" width="9" height="9"><path d="M0.5 0.5 L8.5 8.5 M8.5 0.5 L0.5 8.5" stroke="#333" stroke-width="1.1"/></svg>
<svg style="left:662px;top:35px" width="15" height="15" viewBox="0 0 15 15"><rect x="2.8" y="2.8" width="9.4" height="9.4" rx="0.6" fill="#2f917a"/><rect x="5.5" y="5.5" width="3.6" height="3.4" fill="#e8f8f4"/><rect x="3.9" y="0.2" width="1.4" height="2.2" fill="#2f917a"/><rect x="3.9" y="12.6" width="1.4" height="2.2" fill="#2f917a"/><rect x="0.2" y="3.9" width="2.2" height="1.4" fill="#2f917a"/><rect x="12.6" y="3.9" width="2.2" height="1.4" fill="#2f917a"/><rect x="6.6" y="0.2" width="1.4" height="2.2" fill="#2f917a"/><rect x="6.6" y="12.6" width="1.4" height="2.2" fill="#2f917a"/><rect x="0.2" y="6.6" width="2.2" height="1.4" fill="#2f917a"/><rect x="12.6" y="6.6" width="2.2" height="1.4" fill="#2f917a"/><rect x="9.2" y="0.2" width="1.4" height="2.2" fill="#2f917a"/><rect x="9.2" y="12.6" width="1.4" height="2.2" fill="#2f917a"/><rect x="0.2" y="9.2" width="2.2" height="1.4" fill="#2f917a"/><rect x="12.6" y="9.2" width="2.2" height="1.4" fill="#2f917a"/></svg>
<div class="t" style="left:681px;top:36px;font-size:10.7px;color:#222">Expansion Header</div>
<svg style="left:1107px;top:34px" width="16" height="16" viewBox="0 0 16 16"><circle cx="6.5" cy="6.5" r="5.2" fill="#e9f6f2" stroke="#2f917a" stroke-width="2"/><path d="M6.5 4 V9 M4 6.5 H9" stroke="#2f917a" stroke-width="1.6"/><path d="M10 10 L14.5 14.5" stroke="#2f917a" stroke-width="2.6"/></svg>
<svg style="left:1128px;top:34px" width="16" height="16" viewBox="0 0 16 16"><circle cx="6.5" cy="6.5" r="5.2" fill="#e9f6f2" stroke="#2f917a" stroke-width="2"/><path d="M4 6.5 H9" stroke="#2f917a" stroke-width="1.6"/><path d="M10 10 L14.5 14.5" stroke="#2f917a" stroke-width="2.6"/></svg>
<svg style="left:1150px;top:34px" width="16" height="16" viewBox="0 0 16 16"><path d="M10.5 4 A5 5 0 1 0 7 12.5" fill="none" stroke="#2f917a" stroke-width="2"/><path d="M8 4.5 H14.5 L11.3 8.5Z" fill="#2f917a"/></svg>
<svg style="left:1171px;top:36px" width="16" height="13" viewBox="0 0 16 13"><path d="M0 0 H6 L9 2.5 H15 V13 H0Z" fill="#2f917a"/><path d="M9 3.5 H14" stroke="#e9f6f2" stroke-width="0.8"/></svg>
<div class="a" style="left:1189px;top:32px;width:2px;height:19px;background:#a8c8e8"></div>
<svg style="left:713px;top:139px" width="384" height="383" viewBox="0 0 384 383"><path d="M5 1 H378 L382 5 V378 L378 382 H5 L1 378 V5Z" fill="#808080"/></svg>
<svg style="left:1079px;top:142px" width="14" height="14"><circle cx="7" cy="7" r="6" fill="#1b979c" stroke="#cdecee" stroke-width="0.8"/></svg>
<div class="pin" style="left:731.1px;top:156.6px;background:#e2e2e2"></div>
<div class="pl" style="left:725px;top:165px">A17</div>
<div class="pin" style="left:752.1px;top:156.6px;background:#e2e2e2"></div>
<div class="pl" style="left:746px;top:165px">A16</div>
<div class="pin" style="left:794.1px;top:156.6px;background:#e2e2e2"></div>
<div class="pl" style="left:788px;top:165px">A14</div>
<div class="pin" style="left:836.1px;top:156.6px;background:#e8e8e8"></div>
<svg style="left:836px;top:156px" width="8" height="8"><path d="M0.2 0.5 L7.6 7.9 M7.6 0.5 L0.2 7.9" stroke="#111" stroke-width="0.9"/></svg>
<div class="pl" style="left:830px;top:165px">A12</div>
<div class="pin" style="left:878.1px;top:156.6px;background:#e2e2e2"></div>
<div class="pl" style="left:872px;top:165px">A10</div>
<div class="pin" style="left:920.1px;top:156.6px;background:#e2e2e2"></div>
<div class="pl" style="left:914px;top:165px">A8</div>
<div class="pin" style="left:962.1px;top:156.6px;background:#e2e2e2"></div>
<div class="pl" style="left:956px;top:165px">A6</div>
<div class="pin" style="left:1004.1px;top:156.6px;background:#e2e2e2"></div>
<div class="pl" style="left:998px;top:165px">A4</div>
<div class="pin" style="left:1046.1px;top:156.6px;background:#e2e2e2"></div>
<div class="pl" style="left:1040px;top:165px">A2</div>
<div class="pin" style="left:1067.1px;top:156.6px;background:#00ff00"></div>
<div class="pl" style="left:1061px;top:165px">A1</div>
<div class="pin" style="left:731.1px;top:177.6px;background:#e2e2e2"></div>
<div class="pl" style="left:725px;top:186px">B17</div>
<div class="pin" style="left:752.1px;top:177.6px;background:#e2e2e2"></div>
<div class="pl" style="left:746px;top:186px">B16</div>
<div class="pin" style="left:773.1px;top:177.6px;background:#e2e2e2"></div>
<div class="pl" style="left:767px;top:186px">B15</div>
<div class="pin" style="left:794.1px;top:177.6px;background:#e2e2e2"></div>
<div class="pl" style="left:788px;top:186px">B14</div>
<div class="pin" style="left:836.1px;top:177.6px;background:#e8e8e8"></div>
<svg style="left:836px;top:177px" width="8" height="8"><path d="M0.2 0.5 L7.6 7.9 M7.6 0.5 L0.2 7.9" stroke="#111" stroke-width="0.9"/></svg>
<div class="pl" style="left:830px;top:186px">B12</div>
<div class="pin" style="left:857.1px;top:177.6px;background:#e8e8e8"></div>
<svg style="left:857px;top:177px" width="8" height="8"><path d="M0.2 0.5 L7.6 7.9 M7.6 0.5 L0.2 7.9" stroke="#111" stroke-width="0.9"/></svg>
<div class="pl" style="left:851px;top:186px">B11</div>
<div class="pin" style="left:878.1px;top:177.6px;background:#e2e2e2"></div>
<div class="pl" style="left:872px;top:186px">B10</div>
<div class="pin" style="left:920.1px;top:177.6px;background:#e2e2e2"></div>
<div class="pl" style="left:914px;top:186px">B8</div>
<div class="pin" style="left:941.1px;top:177.6px;background:#e2e2e2"></div>
<div class="pl" style="left:935px;top:186px">B7</div>
<div class="pin" style="left:962.1px;top:177.6px;background:#e2e2e2"></div>
<div class="pl" style="left:956px;top:186px">B6</div>
<div class="pin" style="left:1004.1px;top:177.6px;background:#e2e2e2"></div>
<div class="pl" style="left:998px;top:186px">B4</div>
<div class="pin" style="left:1025.1px;top:177.6px;background:#e2e2e2"></div>
<div class="pl" style="left:1019px;top:186px">B3</div>
<div class="pin" style="left:1046.1px;top:177.6px;background:#e2e2e2"></div>
<div class="pl" style="left:1040px;top:186px">B2</div>
<div class="pin" style="left:1067.1px;top:177.6px;background:#00ff00"></div>
<div class="pl" style="left:1061px;top:186px">B1</div>
<div class="pin" style="left:773.1px;top:198.6px;background:#e2e2e2"></div>
<div class="pl" style="left:767px;top:207px">C15</div>
<div class="pin" style="left:794.1px;top:198.6px;background:#e2e2e2"></div>
<div class="pl" style="left:788px;top:207px">C14</div>
<div class="pin" style="left:815.1px;top:198.6px;background:#e2e2e2"></div>
<div class="pl" style="left:809px;top:207px">C13</div>
<div class="pin" style="left:836.1px;top:198.6px;background:#e8e8e8"></div>
<svg style="left:836px;top:198px" width="8" height="8"><path d="M0.2 0.5 L7.6 7.9 M7.6 0.5 L0.2 7.9" stroke="#111" stroke-width="0.9"/></svg>
<div class="pl" style="left:830px;top:207px">C12</div>
<div class="pin" style="left:878.1px;top:198.6px;background:#e2e2e2"></div>
<div class="pl" style="left:872px;top:207px">C10</div>
<div class="pin" style="left:899.1px;top:198.6px;background:#e2e2e2"></div>
<div class="pl" style="left:893px;top:207px">C9</div>
<div class="pin" style="left:920.1px;top:198.6px;background:#e2e2e2"></div>
<div class="pl" style="left:914px;top:207px">C8</div>
<div class="pin" style="left:962.1px;top:198.6px;background:#e2e2e2"></div>
<div class="pl" style="left:956px;top:207px">C6</div>
<div class="pin" style="left:983.1px;top:198.6px;background:#e2e2e2"></div>
<div class="pl" style="left:977px;top:207px">C5</div>
<div class="pin" style="left:1004.1px;top:198.6px;background:#e2e2e2"></div>
<div class="pl" style="left:998px;top:207px">C4</div>
<div class="pin" style="left:1025.1px;top:198.6px;background:#e2e2e2"></div>
<div class="pl" style="left:1019px;top:207px">C3</div>
<div class="pin" style="left:731.1px;top:219.6px;background:#e2e2e2"></div>
<div class="pl" style="left:725px;top:228px">D17</div>
<div class="pin" style="left:752.1px;top:219.6px;background:#e8e8e8"></div>
<svg style="left:752px;top:219px" width="8" height="8"><path d="M0.2 0.5 L7.6 7.9 M7.6 0.5 L0.2 7.9" stroke="#111" stroke-width="0.9"/></svg>
<div class="pl" style="left:746px;top:228px">D16</div>
<div class="pin" style="left:773.1px;top:219.6px;background:#e2e2e2"></div>
<div class="pl" style="left:767px;top:228px">D15</div>
<div class="pin" style="left:794.1px;top:219.6px;background:#e2e2e2"></div>
<div class="pl" style="left:788px;top:228px">D14</div>
<div class="pin" style="left:836.1px;top:219.6px;background:#cbcbcb"></div>
<div class="pl" style="left:830px;top:228px">D12</div>
<div class="pin" style="left:857.1px;top:219.6px;background:#e2e2e2"></div>
<div class="pl" style="left:851px;top:228px">D11</div>
<div class="pin" style="left:899.1px;top:219.6px;background:#cbcbcb"></div>
<div class="pl" style="left:893px;top:228px">D9</div>
<div class="pin" style="left:941.1px;top:219.6px;background:#e8e8e8"></div>
<svg style="left:941px;top:219px" width="8" height="8"><path d="M0.2 0.5 L7.6 7.9 M7.6 0.5 L0.2 7.9" stroke="#111" stroke-width="0.9"/></svg>
<div class="pl" style="left:935px;top:228px">D7</div>
<div class="pin" style="left:962.1px;top:219.6px;background:#cbcbcb"></div>
<div class="pl" style="left:956px;top:228px">D6</div>
<div class="pin" style="left:1004.1px;top:219.6px;background:#e2e2e2"></div>
<div class="pl" style="left:998px;top:228px">D4</div>
<div class="pin" style="left:1025.1px;top:219.6px;background:#e2e2e2"></div>
<div class="pl" style="left:1019px;top:228px">D3</div>
<div class="pin" style="left:1046.1px;top:219.6px;background:#e2e2e2"></div>
<div class="pl" style="left:1040px;top:228px">D2</div>
<div class="pin" style="left:1067.1px;top:219.6px;background:#e2e2e2"></div>
<div class="pl" style="left:1061px;top:228px">D1</div>
<div class="pin" style="left:794.1px;top:240.6px;background:#e2e2e2"></div>
<div class="pl" style="left:788px;top:249px">E14</div>
<div class="pin" style="left:815.1px;top:240.6px;background:#cbcbcb"></div>
<div class="pl" style="left:809px;top:249px">E13</div>
<div class="pin" style="left:857.1px;top:240.6px;background:#e2e2e2"></div>
<div class="pl" style="left:851px;top:249px">E11</div>
<div class="pin" style="left:878.1px;top:240.6px;background:#e2e2e2"></div>
<div class="pl" style="left:872px;top:249px">E10</div>
<div class="pin" style="left:920.1px;top:240.6px;background:#e2e2e2"></div>
<div class="pl" style="left:914px;top:249px">E8</div>
<div class="pin" style="left:941.1px;top:240.6px;background:#e8e8e8"></div>
<svg style="left:941px;top:240px" width="8" height="8"><path d="M0.2 0.5 L7.6 7.9 M7.6 0.5 L0.2 7.9" stroke="#111" stroke-width="0.9"/></svg>
<div class="pl" style="left:935px;top:249px">E7</div>
<div class="pin" style="left:983.1px;top:240.6px;background:#cbcbcb"></div>
<div class="pl" style="left:977px;top:249px">E5</div>
<div class="pin" style="left:1004.1px;top:240.6px;background:#e2e2e2"></div>
<div class="pl" style="left:998px;top:249px">E4</div>
<div class="pin" style="left:731.1px;top:261.6px;background:#e2e2e2"></div>
<div class="pl" style="left:725px;top:270px">F17</div>
<div class="pin" style="left:752.1px;top:261.6px;background:#e2e2e2"></div>
<div class="pl" style="left:746px;top:270px">F16</div>
<div class="pin" style="left:773.1px;top:261.6px;background:#e2e2e2"></div>
<div class="pl" style="left:767px;top:270px">F15</div>
<div class="pin" style="left:794.1px;top:261.6px;background:#e8e8e8"></div>
<svg style="left:794px;top:261px" width="8" height="8"><path d="M0.2 0.5 L7.6 7.9 M7.6 0.5 L0.2 7.9" stroke="#111" stroke-width="0.9"/></svg>
<div class="pl" style="left:788px;top:270px">F14</div>
<div class="pin" style="left:836.1px;top:261.6px;background:#e2e2e2"></div>
<div class="pl" style="left:830px;top:270px">F12</div>
<div class="pin" style="left:878.1px;top:261.6px;background:#e2e2e2"></div>
<div class="pl" style="left:872px;top:270px">F10</div>
<div class="pin" style="left:920.1px;top:261.6px;background:#e2e2e2"></div>
<div class="pl" style="left:914px;top:270px">F8</div>
<div class="pin" style="left:962.1px;top:261.6px;background:#e2e2e2"></div>
<div class="pl" style="left:956px;top:270px">F6</div>
<div class="pin" style="left:1004.1px;top:261.6px;background:#e2e2e2"></div>
<div class="pl" style="left:998px;top:270px">F4</div>
<div class="pin" style="left:1025.1px;top:261.6px;background:#cbcbcb"></div>
<div class="pl" style="left:1019px;top:270px">F3</div>
<div class="pin" style="left:1046.1px;top:261.6px;background:#e2e2e2"></div>
<div class="pl" style="left:1040px;top:270px">F2</div>
<div class="pin" style="left:1067.1px;top:261.6px;background:#e2e2e2"></div>
<div class="pl" style="left:1061px;top:270px">F1</div>
<div class="pin" style="left:752.1px;top:282.6px;background:#e2e2e2"></div>
<div class="pl" style="left:746px;top:291px">G16</div>
<div class="pin" style="left:794.1px;top:282.6px;background:#e8e8e8"></div>
<svg style="left:794px;top:282px" width="8" height="8"><path d="M0.2 0.5 L7.6 7.9 M7.6 0.5 L0.2 7.9" stroke="#111" stroke-width="0.9"/></svg>
<div class="pl" style="left:788px;top:291px">G14</div>
<div class="pin" style="left:815.1px;top:282.6px;background:#e2e2e2"></div>
<div class="pl" style="left:809px;top:291px">G13</div>
<div class="pin" style="left:857.1px;top:282.6px;background:#cbcbcb"></div>
<div class="pl" style="left:851px;top:291px">G11</div>
<div class="pin" style="left:941.1px;top:282.6px;background:#cbcbcb"></div>
<div class="pl" style="left:935px;top:291px">G7</div>
<div class="pin" style="left:983.1px;top:282.6px;background:#e2e2e2"></div>
<div class="pl" style="left:977px;top:291px">G5</div>
<div class="pin" style="left:1004.1px;top:282.6px;background:#e2e2e2"></div>
<div class="pl" style="left:998px;top:291px">G4</div>
<div class="pin" style="left:1046.1px;top:282.6px;background:#cbcbcb"></div>
<div class="pl" style="left:1040px;top:291px">G2</div>
<div class="pin" style="left:731.1px;top:303.6px;background:#e2e2e2"></div>
<div class="pl" style="left:725px;top:312px">H17</div>
<div class="pin" style="left:752.1px;top:303.6px;background:#e2e2e2"></div>
<div class="pl" style="left:746px;top:312px">H16</div>
<div class="pin" style="left:773.1px;top:303.6px;background:#e2e2e2"></div>
<div class="pl" style="left:767px;top:312px">H15</div>
<div class="pin" style="left:815.1px;top:303.6px;background:#cbcbcb"></div>
<div class="pl" style="left:809px;top:312px">H13</div>
<div class="pin" style="left:836.1px;top:303.6px;background:#cbcbcb"></div>
<div class="pl" style="left:830px;top:312px">H12</div>
<div class="pin" style="left:878.1px;top:303.6px;background:#cbcbcb"></div>
<div class="pl" style="left:872px;top:312px">H10</div>
<div class="pin" style="left:899.1px;top:303.6px;background:#cbcbcb"></div>
<div class="pl" style="left:893px;top:312px">H9</div>
<div class="pin" style="left:920.1px;top:303.6px;background:#cbcbcb"></div>
<div class="pl" style="left:914px;top:312px">H8</div>
<div class="pin" style="left:962.1px;top:303.6px;background:#cbcbcb"></div>
<div class="pl" style="left:956px;top:312px">H6</div>
<div class="pin" style="left:983.1px;top:303.6px;background:#cbcbcb"></div>
<div class="pl" style="left:977px;top:312px">H5</div>
<div class="pin" style="left:1025.1px;top:303.6px;background:#e2e2e2"></div>
<div class="pl" style="left:1019px;top:312px">H3</div>
<div class="pin" style="left:1046.1px;top:303.6px;background:#e2e2e2"></div>
<div class="pl" style="left:1040px;top:312px">H2</div>
<div class="pin" style="left:1067.1px;top:303.6px;background:#e2e2e2"></div>
<div class="pl" style="left:1061px;top:312px">H1</div>
<div class="pin" style="left:773.1px;top:324.6px;background:#e2e2e2"></div>
<div class="pl" style="left:767px;top:333px">J15</div>
<div class="pin" style="left:794.1px;top:324.6px;background:#cbcbcb"></div>
<div class="pl" style="left:788px;top:333px">J14</div>
<div class="pin" style="left:878.1px;top:324.6px;background:#cbcbcb"></div>
<div class="pl" style="left:872px;top:333px">J10</div>
<div class="pin" style="left:920.1px;top:324.6px;background:#cbcbcb"></div>
<div class="pl" style="left:914px;top:333px">J8</div>
<div class="pin" style="left:1004.1px;top:324.6px;background:#cbcbcb"></div>
<div class="pl" style="left:998px;top:333px">J4</div>
<div class="pin" style="left:1025.1px;top:324.6px;background:#e2e2e2"></div>
<div class="pl" style="left:1019px;top:333px">J3</div>
<div class="pin" style="left:731.1px;top:345.6px;background:#e8e8e8"></div>
<svg style="left:731px;top:345px" width="8" height="8"><path d="M0.2 0.5 L7.6 7.9 M7.6 0.5 L0.2 7.9" stroke="#111" stroke-width="0.9"/></svg>
<div class="pl" style="left:725px;top:354px">K17</div>
<div class="pin" style="left:752.1px;top:345.6px;background:#e2e2e2"></div>
<div class="pl" style="left:746px;top:354px">K16</div>
<div class="pin" style="left:773.1px;top:345.6px;background:#e2e2e2"></div>
<div class="pl" style="left:767px;top:354px">K15</div>
<div class="pin" style="left:815.1px;top:345.6px;background:#e2e2e2"></div>
<div class="pl" style="left:809px;top:354px">K13</div>
<div class="pin" style="left:836.1px;top:345.6px;background:#e2e2e2"></div>
<div class="pl" style="left:830px;top:354px">K12</div>
<div class="pin" style="left:878.1px;top:345.6px;background:#cbcbcb"></div>
<div class="pl" style="left:872px;top:354px">K10</div>
<div class="pin" style="left:899.1px;top:345.6px;background:#cbcbcb"></div>
<div class="pl" style="left:893px;top:354px">K9</div>
<div class="pin" style="left:920.1px;top:345.6px;background:#cbcbcb"></div>
<div class="pl" style="left:914px;top:354px">K8</div>
<div class="pin" style="left:962.1px;top:345.6px;background:#cbcbcb"></div>
<div class="pl" style="left:956px;top:354px">K6</div>
<div class="pin" style="left:983.1px;top:345.6px;background:#e8e8e8"></div>
<svg style="left:983px;top:345px" width="8" height="8"><path d="M0.2 0.5 L7.6 7.9 M7.6 0.5 L0.2 7.9" stroke="#111" stroke-width="0.9"/></svg>
<div class="pl" style="left:977px;top:354px">K5</div>
<div class="pin" style="left:1025.1px;top:345.6px;background:#e2e2e2"></div>
<div class="pl" style="left:1019px;top:354px">K3</div>
<div class="pin" style="left:1046.1px;top:345.6px;background:#e2e2e2"></div>
<div class="pl" style="left:1040px;top:354px">K2</div>
<div class="pin" style="left:1067.1px;top:345.6px;background:#e2e2e2"></div>
<div class="pl" style="left:1061px;top:354px">K1</div>
<div class="pin" style="left:752.1px;top:366.6px;background:#e2e2e2"></div>
<div class="pl" style="left:746px;top:375px">L16</div>
<div class="pin" style="left:794.1px;top:366.6px;background:#e8e8e8"></div>
<svg style="left:794px;top:366px" width="8" height="8"><path d="M0.2 0.5 L7.6 7.9 M7.6 0.5 L0.2 7.9" stroke="#111" stroke-width="0.9"/></svg>
<div class="pl" style="left:788px;top:375px">L14</div>
<div class="pin" style="left:815.1px;top:366.6px;background:#e2e2e2"></div>
<div class="pl" style="left:809px;top:375px">L13</div>
<div class="pin" style="left:857.1px;top:366.6px;background:#cbcbcb"></div>
<div class="pl" style="left:851px;top:375px">L11</div>
<div class="pin" style="left:941.1px;top:366.6px;background:#cbcbcb"></div>
<div class="pl" style="left:935px;top:375px">L7</div>
<div class="pin" style="left:983.1px;top:366.6px;background:#e8e8e8"></div>
<svg style="left:983px;top:366px" width="8" height="8"><path d="M0.2 0.5 L7.6 7.9 M7.6 0.5 L0.2 7.9" stroke="#111" stroke-width="0.9"/></svg>
<div class="pl" style="left:977px;top:375px">L5</div>
<div class="pin" style="left:1004.1px;top:366.6px;background:#e8e8e8"></div>
<svg style="left:1004px;top:366px" width="8" height="8"><path d="M0.2 0.5 L7.6 7.9 M7.6 0.5 L0.2 7.9" stroke="#111" stroke-width="0.9"/></svg>
<div class="pl" style="left:998px;top:375px">L4</div>
<div class="pin" style="left:1046.1px;top:366.6px;background:#e2e2e2"></div>
<div class="pl" style="left:1040px;top:375px">L2</div>
<div class="pin" style="left:731.1px;top:387.6px;background:#e2e2e2"></div>
<div class="pl" style="left:725px;top:396px">M17</div>
<div class="pin" style="left:752.1px;top:387.6px;background:#e2e2e2"></div>
<div class="pl" style="left:746px;top:396px">M16</div>
<div class="pin" style="left:773.1px;top:387.6px;background:#e2e2e2"></div>
<div class="pl" style="left:767px;top:396px">M15</div>
<div class="pin" style="left:794.1px;top:387.6px;background:#e8e8e8"></div>
<svg style="left:794px;top:387px" width="8" height="8"><path d="M0.2 0.5 L7.6 7.9 M7.6 0.5 L0.2 7.9" stroke="#111" stroke-width="0.9"/></svg>
<div class="pl" style="left:788px;top:396px">M14</div>
<div class="pin" style="left:836.1px;top:387.6px;background:#e2e2e2"></div>
<div class="pl" style="left:830px;top:396px">M12</div>
<div class="pin" style="left:878.1px;top:387.6px;background:#e2e2e2"></div>
<div class="pl" style="left:872px;top:396px">M10</div>
<div class="pin" style="left:920.1px;top:387.6px;background:#e2e2e2"></div>
<div class="pl" style="left:914px;top:396px">M8</div>
<div class="pin" style="left:962.1px;top:387.6px;background:#e2e2e2"></div>
<div class="pl" style="left:956px;top:396px">M6</div>
<div class="pin" style="left:1004.1px;top:387.6px;background:#e8e8e8"></div>
<svg style="left:1004px;top:387px" width="8" height="8"><path d="M0.2 0.5 L7.6 7.9 M7.6 0.5 L0.2 7.9" stroke="#111" stroke-width="0.9"/></svg>
<div class="pl" style="left:998px;top:396px">M4</div>
<div class="pin" style="left:1025.1px;top:387.6px;background:#e2e2e2"></div>
<div class="pl" style="left:1019px;top:396px">M3</div>
<div class="pin" style="left:1046.1px;top:387.6px;background:#e2e2e2"></div>
<div class="pl" style="left:1040px;top:396px">M2</div>
<div class="pin" style="left:1067.1px;top:387.6px;background:#e2e2e2"></div>
<div class="pl" style="left:1061px;top:396px">M1</div>
<div class="pin" style="left:794.1px;top:408.6px;background:#cbcbcb"></div>
<div class="pl" style="left:788px;top:417px">N14</div>
<div class="pin" style="left:815.1px;top:408.6px;background:#cbcbcb"></div>
<div class="pl" style="left:809px;top:417px">N13</div>
<div class="pin" style="left:857.1px;top:408.6px;background:#e2e2e2"></div>
<div class="pl" style="left:851px;top:417px">N11</div>
<div class="pin" style="left:878.1px;top:408.6px;background:#e2e2e2"></div>
<div class="pl" style="left:872px;top:417px">N10</div>
<div class="pin" style="left:920.1px;top:408.6px;background:#e2e2e2"></div>
<div class="pl" style="left:914px;top:417px">N8</div>
<div class="pin" style="left:941.1px;top:408.6px;background:#e2e2e2"></div>
<div class="pl" style="left:935px;top:417px">N7</div>
<div class="pin" style="left:983.1px;top:408.6px;background:#cbcbcb"></div>
<div class="pl" style="left:977px;top:417px">N5</div>
<div class="pin" style="left:1004.1px;top:408.6px;background:#e2e2e2"></div>
<div class="pl" style="left:998px;top:417px">N4</div>
<div class="pin" style="left:731.1px;top:429.6px;background:#cbcbcb"></div>
<div class="pl" style="left:725px;top:438px">P17</div>
<div class="pin" style="left:752.1px;top:429.6px;background:#cbcbcb"></div>
<div class="pl" style="left:746px;top:438px">P16</div>
<div class="pin" style="left:773.1px;top:429.6px;background:#cbcbcb"></div>
<div class="pl" style="left:767px;top:438px">P15</div>
<div class="pin" style="left:794.1px;top:429.6px;background:#cbcbcb"></div>
<div class="pl" style="left:788px;top:438px">P14</div>
<div class="pin" style="left:836.1px;top:429.6px;background:#cbcbcb"></div>
<div class="pl" style="left:830px;top:438px">P12</div>
<div class="pin" style="left:857.1px;top:429.6px;background:#cbcbcb"></div>
<div class="pl" style="left:851px;top:438px">P11</div>
<div class="pin" style="left:899.1px;top:429.6px;background:#cbcbcb"></div>
<div class="pl" style="left:893px;top:438px">P9</div>
<div class="pin" style="left:941.1px;top:429.6px;background:#cbcbcb"></div>
<div class="pl" style="left:935px;top:438px">P7</div>
<div class="pin" style="left:962.1px;top:429.6px;background:#cbcbcb"></div>
<div class="pl" style="left:956px;top:438px">P6</div>
<div class="pin" style="left:1004.1px;top:429.6px;background:#cbcbcb"></div>
<div class="pl" style="left:998px;top:438px">P4</div>
<div class="pin" style="left:1025.1px;top:429.6px;background:#e8e8e8"></div>
<svg style="left:1025px;top:429px" width="8" height="8"><path d="M0.2 0.5 L7.6 7.9 M7.6 0.5 L0.2 7.9" stroke="#111" stroke-width="0.9"/></svg>
<div class="pl" style="left:1019px;top:438px">P3</div>
<div class="pin" style="left:1046.1px;top:429.6px;background:#e2e2e2"></div>
<div class="pl" style="left:1040px;top:438px">P2</div>
<div class="pin" style="left:1067.1px;top:429.6px;background:#e2e2e2"></div>
<div class="pl" style="left:1061px;top:438px">P1</div>
<div class="pin" style="left:773.1px;top:450.6px;background:#cbcbcb"></div>
<div class="pl" style="left:767px;top:459px">R15</div>
<div class="pin" style="left:794.1px;top:450.6px;background:#cbcbcb"></div>
<div class="pl" style="left:788px;top:459px">R14</div>
<div class="pin" style="left:815.1px;top:450.6px;background:#cbcbcb"></div>
<div class="pl" style="left:809px;top:459px">R13</div>
<div class="pin" style="left:836.1px;top:450.6px;background:#cbcbcb"></div>
<div class="pl" style="left:830px;top:459px">R12</div>
<div class="pin" style="left:878.1px;top:450.6px;background:#00ff00"></div>
<div class="pl" style="left:872px;top:459px">R10</div>
<div class="pin" style="left:899.1px;top:450.6px;background:#e2e2e2"></div>
<div class="pl" style="left:893px;top:459px">R9</div>
<div class="pin" style="left:920.1px;top:450.6px;background:#e2e2e2"></div>
<div class="pl" style="left:914px;top:459px">R8</div>
<div class="pin" style="left:962.1px;top:450.6px;background:#cbcbcb"></div>
<div class="pl" style="left:956px;top:459px">R6</div>
<div class="pin" style="left:983.1px;top:450.6px;background:#cbcbcb"></div>
<div class="pl" style="left:977px;top:459px">R5</div>
<div class="pin" style="left:1004.1px;top:450.6px;background:#cbcbcb"></div>
<div class="pl" style="left:998px;top:459px">R4</div>
<div class="pin" style="left:1025.1px;top:450.6px;background:#e8e8e8"></div>
<svg style="left:1025px;top:450px" width="8" height="8"><path d="M0.2 0.5 L7.6 7.9 M7.6 0.5 L0.2 7.9" stroke="#111" stroke-width="0.9"/></svg>
<div class="pl" style="left:1019px;top:459px">R3</div>
<div class="pin" style="left:731.1px;top:471.6px;background:#cbcbcb"></div>
<div class="pl" style="left:725px;top:480px">T17</div>
<div class="pin" style="left:752.1px;top:471.6px;background:#cbcbcb"></div>
<div class="pl" style="left:746px;top:480px">T16</div>
<div class="pin" style="left:773.1px;top:471.6px;background:#e8e8e8"></div>
<svg style="left:773px;top:471px" width="8" height="8"><path d="M0.2 0.5 L7.6 7.9 M7.6 0.5 L0.2 7.9" stroke="#111" stroke-width="0.9"/></svg>
<div class="pl" style="left:767px;top:480px">T15</div>
<div class="pin" style="left:794.1px;top:471.6px;background:#e8e8e8"></div>
<svg style="left:794px;top:471px" width="8" height="8"><path d="M0.2 0.5 L7.6 7.9 M7.6 0.5 L0.2 7.9" stroke="#111" stroke-width="0.9"/></svg>
<div class="pl" style="left:788px;top:480px">T14</div>
<div class="pin" style="left:836.1px;top:471.6px;background:#e2e2e2"></div>
<div class="pl" style="left:830px;top:480px">T12</div>
<div class="pin" style="left:857.1px;top:471.6px;background:#e2e2e2"></div>
<div class="pl" style="left:851px;top:480px">T11</div>
<div class="pin" style="left:878.1px;top:471.6px;background:#e2e2e2"></div>
<div class="pl" style="left:872px;top:480px">T10</div>
<div class="pin" style="left:920.1px;top:471.6px;background:#e2e2e2"></div>
<div class="pl" style="left:914px;top:480px">T8</div>
<div class="pin" style="left:941.1px;top:471.6px;background:#e2e2e2"></div>
<div class="pl" style="left:935px;top:480px">T7</div>
<div class="pin" style="left:962.1px;top:471.6px;background:#e2e2e2"></div>
<div class="pl" style="left:956px;top:480px">T6</div>
<div class="pin" style="left:1004.1px;top:471.6px;background:#e2e2e2"></div>
<div class="pl" style="left:998px;top:480px">T4</div>
<div class="pin" style="left:1025.1px;top:471.6px;background:#e8e8e8"></div>
<svg style="left:1025px;top:471px" width="8" height="8"><path d="M0.2 0.5 L7.6 7.9 M7.6 0.5 L0.2 7.9" stroke="#111" stroke-width="0.9"/></svg>
<div class="pl" style="left:1019px;top:480px">T3</div>
<div class="pin" style="left:1046.1px;top:471.6px;background:#e8e8e8"></div>
<svg style="left:1046px;top:471px" width="8" height="8"><path d="M0.2 0.5 L7.6 7.9 M7.6 0.5 L0.2 7.9" stroke="#111" stroke-width="0.9"/></svg>
<div class="pl" style="left:1040px;top:480px">T2</div>
<div class="pin" style="left:1067.1px;top:471.6px;background:#e2e2e2"></div>
<div class="pl" style="left:1061px;top:480px">T1</div>
<div class="pin" style="left:731.1px;top:492.6px;background:#e2e2e2"></div>
<div class="pl" style="left:725px;top:501px">U17</div>
<div class="pin" style="left:752.1px;top:492.6px;background:#e2e2e2"></div>
<div class="pl" style="left:746px;top:501px">U16</div>
<div class="pin" style="left:794.1px;top:492.6px;background:#cbcbcb"></div>
<div class="pl" style="left:788px;top:501px">U14</div>
<div class="pin" style="left:836.1px;top:492.6px;background:#e2e2e2"></div>
<div class="pl" style="left:830px;top:501px">U12</div>
<div class="pin" style="left:878.1px;top:492.6px;background:#e8e8e8"></div>
<svg style="left:878px;top:492px" width="8" height="8"><path d="M0.2 0.5 L7.6 7.9 M7.6 0.5 L0.2 7.9" stroke="#111" stroke-width="0.9"/></svg>
<div class="pl" style="left:872px;top:501px">U10</div>
<div class="pin" style="left:920.1px;top:492.6px;background:#e8e8e8"></div>
<svg style="left:920px;top:492px" width="8" height="8"><path d="M0.2 0.5 L7.6 7.9 M7.6 0.5 L0.2 7.9" stroke="#111" stroke-width="0.9"/></svg>
<div class="pl" style="left:914px;top:501px">U8</div>
<div class="pin" style="left:962.1px;top:492.6px;background:#e8e8e8"></div>
<svg style="left:962px;top:492px" width="8" height="8"><path d="M0.2 0.5 L7.6 7.9 M7.6 0.5 L0.2 7.9" stroke="#111" stroke-width="0.9"/></svg>
<div class="pl" style="left:956px;top:501px">U6</div>
<div class="pin" style="left:1004.1px;top:492.6px;background:#cbcbcb"></div>
<div class="pl" style="left:998px;top:501px">U4</div>
<div class="pin" style="left:1046.1px;top:492.6px;background:#e8e8e8"></div>
<svg style="left:1046px;top:492px" width="8" height="8"><path d="M0.2 0.5 L7.6 7.9 M7.6 0.5 L0.2 7.9" stroke="#111" stroke-width="0.9"/></svg>
<div class="pl" style="left:1040px;top:501px">U2</div>
<div class="pin" style="left:1067.1px;top:492.6px;background:#e2e2e2"></div>
<div class="pl" style="left:1061px;top:501px">U1</div>
<div class="num" style="left:725px;top:91px">17</div>
<div class="a" style="left:734.2px;top:110px;width:1.7px;height:15px;background:#353535"></div>
<div class="a" style="left:734.2px;top:534px;width:1.7px;height:15px;background:#353535"></div>
<div class="num" style="left:725px;top:562px">17</div>
<div class="num" style="left:746px;top:91px">16</div>
<div class="a" style="left:755.2px;top:110px;width:1.7px;height:15px;background:#353535"></div>
<div class="a" style="left:755.2px;top:534px;width:1.7px;height:15px;background:#353535"></div>
<div class="num" style="left:746px;top:562px">16</div>
<div class="num" style="left:767px;top:91px">15</div>
<div class="a" style="left:776.2px;top:110px;width:1.7px;height:15px;background:#353535"></div>
<div class="a" style="left:776.2px;top:534px;width:1.7px;height:15px;background:#353535"></div>
<div class="num" style="left:767px;top:562px">15</div>
<div class="num" style="left:788px;top:91px">14</div>
<div class="a" style="left:797.2px;top:110px;width:1.7px;height:15px;background:#353535"></div>
<div class="a" style="left:797.2px;top:534px;width:1.7px;height:15px;background:#353535"></div>
<div class="num" style="left:788px;top:562px">14</div>
<div class="num" style="left:809px;top:91px">13</div>
<div class="a" style="left:818.2px;top:110px;width:1.7px;height:15px;background:#353535"></div>
<div class="a" style="left:818.2px;top:534px;width:1.7px;height:15px;background:#353535"></div>
<div class="num" style="left:809px;top:562px">13</div>
<div class="num" style="left:830px;top:91px">12</div>
<div class="a" style="left:839.2px;top:110px;width:1.7px;height:15px;background:#353535"></div>
<div class="a" style="left:839.2px;top:534px;width:1.7px;height:15px;background:#353535"></div>
<div class="num" style="left:830px;top:562px">12</div>
<div class="num" style="left:851px;top:91px">11</div>
<div class="a" style="left:860.2px;top:110px;width:1.7px;height:15px;background:#353535"></div>
<div class="a" style="left:860.2px;top:534px;width:1.7px;height:15px;background:#353535"></div>
<div class="num" style="left:851px;top:562px">11</div>
<div class="num" style="left:872px;top:91px">10</div>
<div class="a" style="left:881.2px;top:110px;width:1.7px;height:15px;background:#353535"></div>
<div class="a" style="left:881.2px;top:534px;width:1.7px;height:15px;background:#353535"></div>
<div class="num" style="left:872px;top:562px">10</div>
<div class="num" style="left:893px;top:91px">9</div>
<div class="a" style="left:902.2px;top:110px;width:1.7px;height:15px;background:#353535"></div>
<div class="a" style="left:902.2px;top:534px;width:1.7px;height:15px;background:#353535"></div>
<div class="num" style="left:893px;top:562px">9</div>
<div class="num" style="left:914px;top:91px">8</div>
<div class="a" style="left:923.2px;top:110px;width:1.7px;height:15px;background:#353535"></div>
<div class="a" style="left:923.2px;top:534px;width:1.7px;height:15px;background:#353535"></div>
<div class="num" style="left:914px;top:562px">8</div>
<div class="num" style="left:935px;top:91px">7</div>
<div class="a" style="left:944.2px;top:110px;width:1.7px;height:15px;background:#353535"></div>
<div class="a" style="left:944.2px;top:534px;width:1.7px;height:15px;background:#353535"></div>
<div class="num" style="left:935px;top:562px">7</div>
<div class="num" style="left:956px;top:91px">6</div>
<div class="a" style="left:965.2px;top:110px;width:1.7px;height:15px;background:#353535"></div>
<div class="a" style="left:965.2px;top:534px;width:1.7px;height:15px;background:#353535"></div>
<div class="num" style="left:956px;top:562px">6</div>
<div class="num" style="left:977px;top:91px">5</div>
<div class="a" style="left:986.2px;top:110px;width:1.7px;height:15px;background:#353535"></div>
<div class="a" style="left:986.2px;top:534px;width:1.7px;height:15px;background:#353535"></div>
<div class="num" style="left:977px;top:562px">5</div>
<div class="num" style="left:998px;top:91px">4</div>
<div class="a" style="left:1007.2px;top:110px;width:1.7px;height:15px;background:#353535"></div>
<div class="a" style="left:1007.2px;top:534px;width:1.7px;height:15px;background:#353535"></div>
<div class="num" style="left:998px;top:562px">4</div>
<div class="num" style="left:1019px;top:91px">3</div>
<div class="a" style="left:1028.2px;top:110px;width:1.7px;height:15px;background:#353535"></div>
<div class="a" style="left:1028.2px;top:534px;width:1.7px;height:15px;background:#353535"></div>
<div class="num" style="left:1019px;top:562px">3</div>
<div class="num" style="left:1040px;top:91px">2</div>
<div class="a" style="left:1049.2px;top:110px;width:1.7px;height:15px;background:#353535"></div>
<div class="a" style="left:1049.2px;top:534px;width:1.7px;height:15px;background:#353535"></div>
<div class="num" style="left:1040px;top:562px">2</div>
<div class="num" style="left:1061px;top:91px">1</div>
<div class="a" style="left:1070.2px;top:110px;width:1.7px;height:15px;background:#353535"></div>
<div class="a" style="left:1070.2px;top:534px;width:1.7px;height:15px;background:#353535"></div>
<div class="num" style="left:1061px;top:562px">1</div>
<div class="num" style="left:658px;top:156px">A</div>
<div class="a" style="left:685px;top:160.2px;width:15px;height:1.7px;background:#353535"></div>
<div class="a" style="left:1109px;top:160.2px;width:15px;height:1.7px;background:#353535"></div>
<div class="num" style="left:1129px;top:156px">A</div>
<div class="num" style="left:658px;top:177px">B</div>
<div class="a" style="left:685px;top:181.2px;width:15px;height:1.7px;background:#353535"></div>
<div class="a" style="left:1109px;top:181.2px;width:15px;height:1.7px;background:#353535"></div>
<div class="num" style="left:1129px;top:177px">B</div>
<div class="num" style="left:658px;top:198px">C</div>
<div class="a" style="left:685px;top:202.2px;width:15px;height:1.7px;background:#353535"></div>
<div class="a" style="left:1109px;top:202.2px;width:15px;height:1.7px;background:#353535"></div>
<div class="num" style="left:1129px;top:198px">C</div>
<div class="num" style="left:658px;top:219px">D</div>
<div class="a" style="left:685px;top:223.2px;width:15px;height:1.7px;background:#353535"></div>
<div class="a" style="left:1109px;top:223.2px;width:15px;height:1.7px;background:#353535"></div>
<div class="num" style="left:1129px;top:219px">D</div>
<div class="num" style="left:658px;top:240px">E</div>
<div class="a" style="left:685px;top:244.2px;width:15px;height:1.7px;background:#353535"></div>
<div class="a" style="left:1109px;top:244.2px;width:15px;height:1.7px;background:#353535"></div>
<div class="num" style="left:1129px;top:240px">E</div>
<div class="num" style="left:658px;top:261px">F</div>
<div class="a" style="left:685px;top:265.2px;width:15px;height:1.7px;background:#353535"></div>
<div class="a" style="left:1109px;top:265.2px;width:15px;height:1.7px;background:#353535"></div>
<div class="num" style="left:1129px;top:261px">F</div>
<div class="num" style="left:658px;top:282px">G</div>
<div class="a" style="left:685px;top:286.2px;width:15px;height:1.7px;background:#353535"></div>
<div class="a" style="left:1109px;top:286.2px;width:15px;height:1.7px;background:#353535"></div>
<div class="num" style="left:1129px;top:282px">G</div>
<div class="num" style="left:658px;top:303px">H</div>
<div class="a" style="left:685px;top:307.2px;width:15px;height:1.7px;background:#353535"></div>
<div class="a" style="left:1109px;top:307.2px;width:15px;height:1.7px;background:#353535"></div>
<div class="num" style="left:1129px;top:303px">H</div>
<div class="num" style="left:658px;top:324px">J</div>
<div class="a" style="left:685px;top:328.2px;width:15px;height:1.7px;background:#353535"></div>
<div class="a" style="left:1109px;top:328.2px;width:15px;height:1.7px;background:#353535"></div>
<div class="num" style="left:1129px;top:324px">J</div>
<div class="num" style="left:658px;top:345px">K</div>
<div class="a" style="left:685px;top:349.2px;width:15px;height:1.7px;background:#353535"></div>
<div class="a" style="left:1109px;top:349.2px;width:15px;height:1.7px;background:#353535"></div>
<div class="num" style="left:1129px;top:345px">K</div>
<div class="num" style="left:658px;top:366px">L</div>
<div class="a" style="left:685px;top:370.2px;width:15px;height:1.7px;background:#353535"></div>
<div class="a" style="left:1109px;top:370.2px;width:15px;height:1.7px;background:#353535"></div>
<div class="num" style="left:1129px;top:366px">L</div>
<div class="num" style="left:658px;top:387px">M</div>
<div class="a" style="left:685px;top:391.2px;width:15px;height:1.7px;background:#353535"></div>
<div class="a" style="left:1109px;top:391.2px;width:15px;height:1.7px;background:#353535"></div>
<div class="num" style="left:1129px;top:387px">M</div>
<div class="num" style="left:658px;top:408px">N</div>
<div class="a" style="left:685px;top:412.2px;width:15px;height:1.7px;background:#353535"></div>
<div class="a" style="left:1109px;top:412.2px;width:15px;height:1.7px;background:#353535"></div>
<div class="num" style="left:1129px;top:408px">N</div>
<div class="num" style="left:658px;top:429px">P</div>
<div class="a" style="left:685px;top:433.2px;width:15px;height:1.7px;background:#353535"></div>
<div class="a" style="left:1109px;top:433.2px;width:15px;height:1.7px;background:#353535"></div>
<div class="num" style="left:1129px;top:429px">P</div>
<div class="num" style="left:658px;top:450px">R</div>
<div class="a" style="left:685px;top:454.2px;width:15px;height:1.7px;background:#353535"></div>
<div class="a" style="left:1109px;top:454.2px;width:15px;height:1.7px;background:#353535"></div>
<div class="num" style="left:1129px;top:450px">R</div>
<div class="num" style="left:658px;top:471px">T</div>
<div class="a" style="left:685px;top:475.2px;width:15px;height:1.7px;background:#353535"></div>
<div class="a" style="left:1109px;top:475.2px;width:15px;height:1.7px;background:#353535"></div>
<div class="num" style="left:1129px;top:471px">T</div>
<div class="num" style="left:658px;top:492px">U</div>
<div class="a" style="left:685px;top:496.2px;width:15px;height:1.7px;background:#353535"></div>
<div class="a" style="left:1109px;top:496.2px;width:15px;height:1.7px;background:#353535"></div>
<div class="num" style="left:1129px;top:492px">U</div>
<div class="t" style="left:779px;top:569.5px;font-size:15px;line-height:18px;color:#2a2a2a">MCXN236VDF - VFBGA 184 package</div>
</body></html>
